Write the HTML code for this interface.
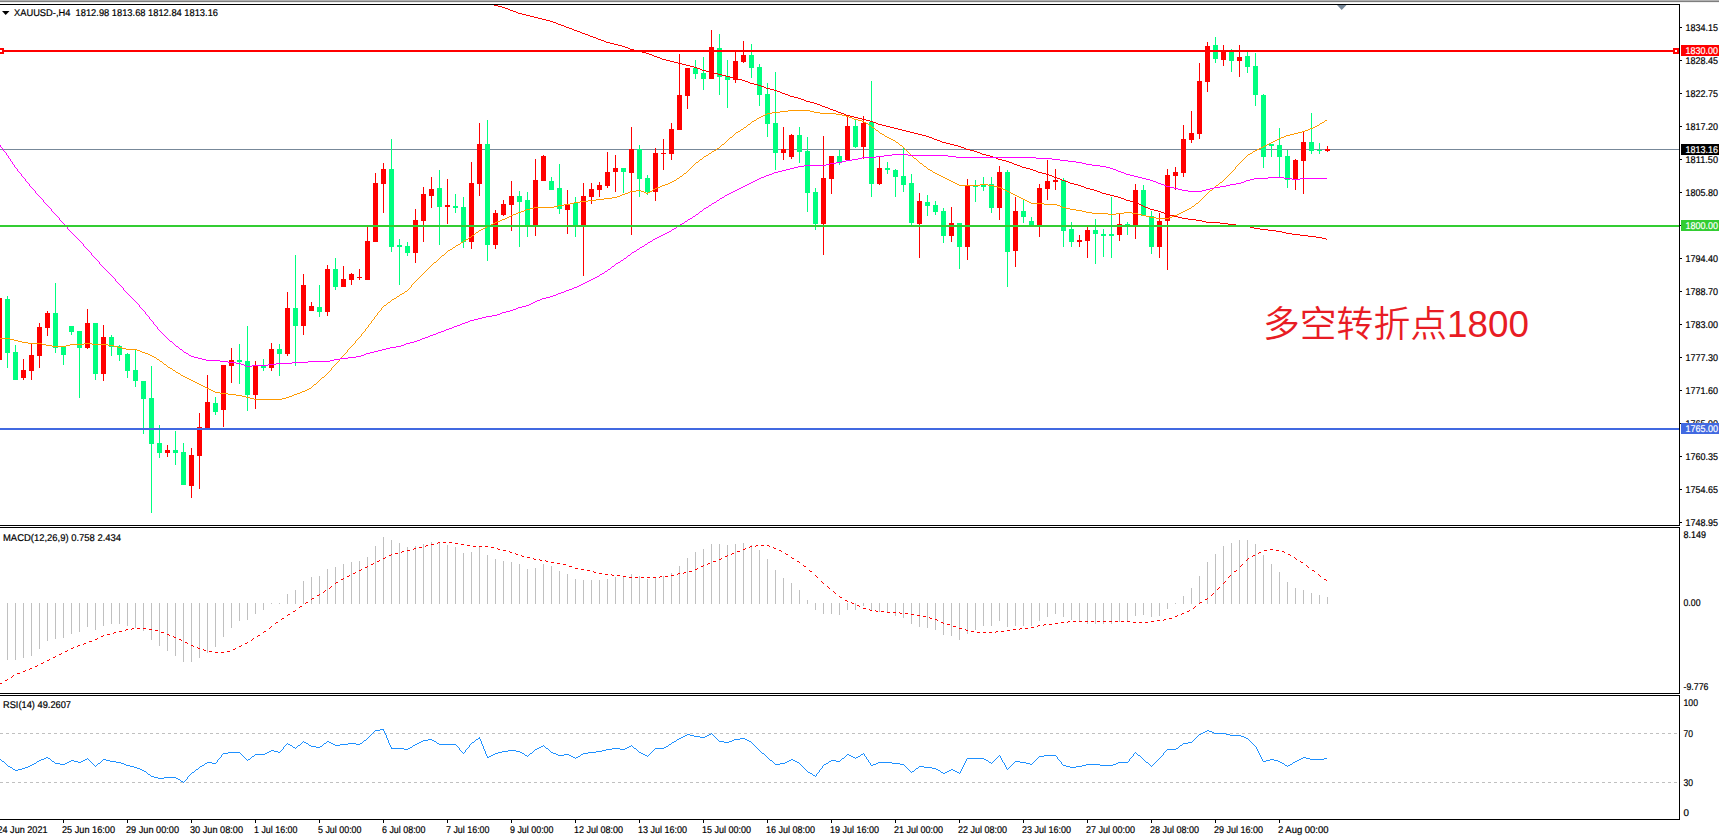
<!DOCTYPE html>
<html lang="zh"><head><meta charset="utf-8"><title>XAUUSD H4</title>
<style>html,body{margin:0;padding:0;background:#fff;overflow:hidden}body{width:1719px;height:838px}svg{display:block}.t{font-family:"Liberation Sans",sans-serif;font-size:9.8px;text-rendering:geometricPrecision;fill:#000;stroke:#000;stroke-width:0.2px}.w{fill:#fff;stroke:#fff}.big{font-family:"Liberation Sans","Noto Sans CJK SC",sans-serif;font-weight:350;font-size:36.8px;fill:#e81c24}</style></head><body>
<svg width="1719" height="838" viewBox="0 0 1719 838">
<rect width="1719" height="838" fill="#fff"/>
<g shape-rendering="crispEdges">
<rect x="0" y="0" width="1719" height="1" fill="#b2b2b2"/>
<rect x="0" y="1" width="1719" height="1" fill="#7e7e7e"/>
<rect x="0" y="2" width="1719" height="1" fill="#f0f0f0"/>
<rect x="0" y="4" width="1680" height="1" fill="#000"/>
<rect x="1679" y="4" width="1" height="816" fill="#000"/>
<rect x="0" y="525" width="1680" height="1" fill="#000"/>
<rect x="0" y="526" width="1680" height="1" fill="#fff"/>
<rect x="0" y="527" width="1680" height="1" fill="#000"/>
<rect x="0" y="693" width="1680" height="1" fill="#000"/>
<rect x="0" y="694" width="1680" height="1" fill="#fff"/>
<rect x="0" y="695" width="1680" height="1" fill="#000"/>
<rect x="0" y="819" width="1680" height="1" fill="#000"/>
<rect x="0" y="149" width="1679" height="1" fill="#778899"/>
<polygon points="1337,5 1346.5,5 1341.7,10" fill="#778899" shape-rendering="auto"/>
<rect x="0" y="50" width="1679" height="2" fill="#ff0000"/>
<rect x="0" y="225" width="1679" height="2" fill="#32cd32"/>
<rect x="0" y="428" width="1679" height="2" fill="#4169e1"/>
<rect x="-1" y="298" width="1" height="62" fill="#ff0000"/>
<rect x="-3" y="298" width="5" height="62" fill="#ff0000"/>
<rect x="7" y="296" width="1" height="72" fill="#00ff7f"/>
<rect x="5" y="299" width="5" height="54" fill="#00ff7f"/>
<rect x="15" y="345" width="1" height="35" fill="#00ff7f"/>
<rect x="13" y="352" width="5" height="28" fill="#00ff7f"/>
<rect x="23" y="359" width="1" height="21" fill="#ff0000"/>
<rect x="21" y="370" width="5" height="8" fill="#ff0000"/>
<rect x="31" y="344" width="1" height="36" fill="#ff0000"/>
<rect x="29" y="355" width="5" height="16" fill="#ff0000"/>
<rect x="39" y="323" width="1" height="45" fill="#ff0000"/>
<rect x="37" y="327" width="5" height="29" fill="#ff0000"/>
<rect x="47" y="311" width="1" height="25" fill="#ff0000"/>
<rect x="45" y="313" width="5" height="15" fill="#ff0000"/>
<rect x="55" y="283" width="1" height="70" fill="#00ff7f"/>
<rect x="53" y="313" width="5" height="35" fill="#00ff7f"/>
<rect x="63" y="346" width="1" height="19" fill="#00ff7f"/>
<rect x="61" y="346" width="5" height="9" fill="#00ff7f"/>
<rect x="71" y="326" width="1" height="9" fill="#00ff7f"/>
<rect x="69" y="326" width="5" height="6" fill="#00ff7f"/>
<rect x="79" y="331" width="1" height="67" fill="#00ff7f"/>
<rect x="77" y="331" width="5" height="17" fill="#00ff7f"/>
<rect x="87" y="309" width="1" height="40" fill="#ff0000"/>
<rect x="85" y="323" width="5" height="25" fill="#ff0000"/>
<rect x="95" y="323" width="1" height="57" fill="#00ff7f"/>
<rect x="93" y="323" width="5" height="51" fill="#00ff7f"/>
<rect x="103" y="325" width="1" height="56" fill="#ff0000"/>
<rect x="101" y="337" width="5" height="37" fill="#ff0000"/>
<rect x="111" y="335" width="1" height="21" fill="#00ff7f"/>
<rect x="109" y="337" width="5" height="10" fill="#00ff7f"/>
<rect x="119" y="345" width="1" height="16" fill="#00ff7f"/>
<rect x="117" y="346" width="5" height="9" fill="#00ff7f"/>
<rect x="127" y="353" width="1" height="25" fill="#00ff7f"/>
<rect x="125" y="354" width="5" height="17" fill="#00ff7f"/>
<rect x="135" y="350" width="1" height="37" fill="#00ff7f"/>
<rect x="133" y="370" width="5" height="11" fill="#00ff7f"/>
<rect x="143" y="381" width="1" height="53" fill="#00ff7f"/>
<rect x="141" y="381" width="5" height="18" fill="#00ff7f"/>
<rect x="151" y="366" width="1" height="147" fill="#00ff7f"/>
<rect x="149" y="398" width="5" height="46" fill="#00ff7f"/>
<rect x="159" y="425" width="1" height="33" fill="#00ff7f"/>
<rect x="157" y="443" width="5" height="10" fill="#00ff7f"/>
<rect x="167" y="445" width="1" height="12" fill="#ff0000"/>
<rect x="165" y="450" width="5" height="3" fill="#ff0000"/>
<rect x="175" y="431" width="1" height="34" fill="#00ff7f"/>
<rect x="173" y="450" width="5" height="3" fill="#00ff7f"/>
<rect x="183" y="443" width="1" height="42" fill="#00ff7f"/>
<rect x="181" y="452" width="5" height="33" fill="#00ff7f"/>
<rect x="191" y="448" width="1" height="50" fill="#ff0000"/>
<rect x="189" y="455" width="5" height="31" fill="#ff0000"/>
<rect x="199" y="413" width="1" height="76" fill="#ff0000"/>
<rect x="197" y="427" width="5" height="29" fill="#ff0000"/>
<rect x="207" y="375" width="1" height="53" fill="#ff0000"/>
<rect x="205" y="402" width="5" height="26" fill="#ff0000"/>
<rect x="215" y="397" width="1" height="18" fill="#00ff7f"/>
<rect x="213" y="403" width="5" height="9" fill="#00ff7f"/>
<rect x="223" y="365" width="1" height="62" fill="#ff0000"/>
<rect x="221" y="365" width="5" height="45" fill="#ff0000"/>
<rect x="231" y="348" width="1" height="35" fill="#ff0000"/>
<rect x="229" y="360" width="5" height="6" fill="#ff0000"/>
<rect x="239" y="344" width="1" height="40" fill="#00ff7f"/>
<rect x="237" y="360" width="5" height="2" fill="#00ff7f"/>
<rect x="247" y="326" width="1" height="85" fill="#00ff7f"/>
<rect x="245" y="361" width="5" height="34" fill="#00ff7f"/>
<rect x="255" y="361" width="1" height="48" fill="#ff0000"/>
<rect x="253" y="365" width="5" height="30" fill="#ff0000"/>
<rect x="263" y="359" width="1" height="12" fill="#00ff7f"/>
<rect x="261" y="366" width="5" height="2" fill="#00ff7f"/>
<rect x="271" y="343" width="1" height="28" fill="#ff0000"/>
<rect x="269" y="349" width="5" height="19" fill="#ff0000"/>
<rect x="279" y="344" width="1" height="32" fill="#00ff7f"/>
<rect x="277" y="349" width="5" height="5" fill="#00ff7f"/>
<rect x="287" y="292" width="1" height="64" fill="#ff0000"/>
<rect x="285" y="308" width="5" height="46" fill="#ff0000"/>
<rect x="295" y="255" width="1" height="111" fill="#00ff7f"/>
<rect x="293" y="308" width="5" height="18" fill="#00ff7f"/>
<rect x="303" y="274" width="1" height="61" fill="#ff0000"/>
<rect x="301" y="285" width="5" height="41" fill="#ff0000"/>
<rect x="311" y="302" width="1" height="9" fill="#ff0000"/>
<rect x="309" y="306" width="5" height="5" fill="#ff0000"/>
<rect x="319" y="285" width="1" height="32" fill="#00ff7f"/>
<rect x="317" y="307" width="5" height="5" fill="#00ff7f"/>
<rect x="327" y="265" width="1" height="51" fill="#ff0000"/>
<rect x="325" y="269" width="5" height="43" fill="#ff0000"/>
<rect x="335" y="258" width="1" height="32" fill="#00ff7f"/>
<rect x="333" y="269" width="5" height="18" fill="#00ff7f"/>
<rect x="343" y="266" width="1" height="21" fill="#ff0000"/>
<rect x="341" y="279" width="5" height="8" fill="#ff0000"/>
<rect x="351" y="273" width="1" height="12" fill="#ff0000"/>
<rect x="349" y="274" width="5" height="6" fill="#ff0000"/>
<rect x="359" y="269" width="1" height="11" fill="#ff0000"/>
<rect x="357" y="277" width="5" height="1" fill="#ff0000"/>
<rect x="367" y="227" width="1" height="53" fill="#ff0000"/>
<rect x="365" y="241" width="5" height="39" fill="#ff0000"/>
<rect x="375" y="173" width="1" height="69" fill="#ff0000"/>
<rect x="373" y="183" width="5" height="59" fill="#ff0000"/>
<rect x="383" y="163" width="1" height="50" fill="#ff0000"/>
<rect x="381" y="169" width="5" height="15" fill="#ff0000"/>
<rect x="391" y="139" width="1" height="113" fill="#00ff7f"/>
<rect x="389" y="169" width="5" height="78" fill="#00ff7f"/>
<rect x="399" y="239" width="1" height="46" fill="#00ff7f"/>
<rect x="397" y="245" width="5" height="2" fill="#00ff7f"/>
<rect x="407" y="242" width="1" height="14" fill="#00ff7f"/>
<rect x="405" y="246" width="5" height="7" fill="#00ff7f"/>
<rect x="415" y="209" width="1" height="54" fill="#ff0000"/>
<rect x="413" y="220" width="5" height="33" fill="#ff0000"/>
<rect x="423" y="187" width="1" height="55" fill="#ff0000"/>
<rect x="421" y="194" width="5" height="27" fill="#ff0000"/>
<rect x="431" y="177" width="1" height="31" fill="#ff0000"/>
<rect x="429" y="189" width="5" height="7" fill="#ff0000"/>
<rect x="439" y="170" width="1" height="75" fill="#00ff7f"/>
<rect x="437" y="188" width="5" height="19" fill="#00ff7f"/>
<rect x="447" y="179" width="1" height="45" fill="#ff0000"/>
<rect x="445" y="205" width="5" height="2" fill="#ff0000"/>
<rect x="455" y="194" width="1" height="19" fill="#00ff7f"/>
<rect x="453" y="206" width="5" height="2" fill="#00ff7f"/>
<rect x="463" y="197" width="1" height="51" fill="#00ff7f"/>
<rect x="461" y="207" width="5" height="35" fill="#00ff7f"/>
<rect x="471" y="162" width="1" height="87" fill="#ff0000"/>
<rect x="469" y="183" width="5" height="59" fill="#ff0000"/>
<rect x="479" y="123" width="1" height="73" fill="#ff0000"/>
<rect x="477" y="144" width="5" height="40" fill="#ff0000"/>
<rect x="487" y="120" width="1" height="141" fill="#00ff7f"/>
<rect x="485" y="144" width="5" height="101" fill="#00ff7f"/>
<rect x="495" y="210" width="1" height="39" fill="#ff0000"/>
<rect x="493" y="213" width="5" height="32" fill="#ff0000"/>
<rect x="503" y="200" width="1" height="16" fill="#ff0000"/>
<rect x="501" y="204" width="5" height="11" fill="#ff0000"/>
<rect x="511" y="181" width="1" height="50" fill="#ff0000"/>
<rect x="509" y="196" width="5" height="9" fill="#ff0000"/>
<rect x="519" y="191" width="1" height="56" fill="#00ff7f"/>
<rect x="517" y="196" width="5" height="6" fill="#00ff7f"/>
<rect x="527" y="192" width="1" height="45" fill="#00ff7f"/>
<rect x="525" y="200" width="5" height="25" fill="#00ff7f"/>
<rect x="535" y="159" width="1" height="77" fill="#ff0000"/>
<rect x="533" y="180" width="5" height="45" fill="#ff0000"/>
<rect x="543" y="155" width="1" height="26" fill="#ff0000"/>
<rect x="541" y="156" width="5" height="25" fill="#ff0000"/>
<rect x="551" y="177" width="1" height="13" fill="#00ff7f"/>
<rect x="549" y="181" width="5" height="9" fill="#00ff7f"/>
<rect x="559" y="164" width="1" height="50" fill="#00ff7f"/>
<rect x="557" y="188" width="5" height="21" fill="#00ff7f"/>
<rect x="567" y="190" width="1" height="44" fill="#ff0000"/>
<rect x="565" y="204" width="5" height="6" fill="#ff0000"/>
<rect x="575" y="197" width="1" height="40" fill="#00ff7f"/>
<rect x="573" y="203" width="5" height="22" fill="#00ff7f"/>
<rect x="583" y="183" width="1" height="93" fill="#ff0000"/>
<rect x="581" y="196" width="5" height="29" fill="#ff0000"/>
<rect x="591" y="183" width="1" height="21" fill="#ff0000"/>
<rect x="589" y="189" width="5" height="8" fill="#ff0000"/>
<rect x="599" y="182" width="1" height="15" fill="#ff0000"/>
<rect x="597" y="185" width="5" height="5" fill="#ff0000"/>
<rect x="607" y="152" width="1" height="36" fill="#ff0000"/>
<rect x="605" y="172" width="5" height="14" fill="#ff0000"/>
<rect x="615" y="155" width="1" height="37" fill="#ff0000"/>
<rect x="613" y="168" width="5" height="4" fill="#ff0000"/>
<rect x="623" y="168" width="1" height="25" fill="#00ff7f"/>
<rect x="621" y="168" width="5" height="4" fill="#00ff7f"/>
<rect x="631" y="127" width="1" height="108" fill="#ff0000"/>
<rect x="629" y="149" width="5" height="24" fill="#ff0000"/>
<rect x="639" y="145" width="1" height="52" fill="#00ff7f"/>
<rect x="637" y="149" width="5" height="30" fill="#00ff7f"/>
<rect x="647" y="175" width="1" height="20" fill="#00ff7f"/>
<rect x="645" y="178" width="5" height="14" fill="#00ff7f"/>
<rect x="655" y="148" width="1" height="53" fill="#ff0000"/>
<rect x="653" y="153" width="5" height="39" fill="#ff0000"/>
<rect x="663" y="139" width="1" height="31" fill="#ff0000"/>
<rect x="661" y="153" width="5" height="1" fill="#ff0000"/>
<rect x="671" y="123" width="1" height="37" fill="#ff0000"/>
<rect x="669" y="129" width="5" height="25" fill="#ff0000"/>
<rect x="679" y="54" width="1" height="76" fill="#ff0000"/>
<rect x="677" y="95" width="5" height="35" fill="#ff0000"/>
<rect x="687" y="68" width="1" height="41" fill="#ff0000"/>
<rect x="685" y="68" width="5" height="28" fill="#ff0000"/>
<rect x="695" y="60" width="1" height="19" fill="#00ff7f"/>
<rect x="693" y="68" width="5" height="6" fill="#00ff7f"/>
<rect x="703" y="57" width="1" height="33" fill="#00ff7f"/>
<rect x="701" y="73" width="5" height="6" fill="#00ff7f"/>
<rect x="711" y="30" width="1" height="49" fill="#ff0000"/>
<rect x="709" y="47" width="5" height="32" fill="#ff0000"/>
<rect x="719" y="34" width="1" height="61" fill="#00ff7f"/>
<rect x="717" y="48" width="5" height="29" fill="#00ff7f"/>
<rect x="727" y="60" width="1" height="48" fill="#00ff7f"/>
<rect x="725" y="76" width="5" height="4" fill="#00ff7f"/>
<rect x="735" y="52" width="1" height="31" fill="#ff0000"/>
<rect x="733" y="61" width="5" height="19" fill="#ff0000"/>
<rect x="743" y="41" width="1" height="22" fill="#ff0000"/>
<rect x="741" y="55" width="5" height="7" fill="#ff0000"/>
<rect x="751" y="44" width="1" height="34" fill="#00ff7f"/>
<rect x="749" y="55" width="5" height="13" fill="#00ff7f"/>
<rect x="759" y="64" width="1" height="42" fill="#00ff7f"/>
<rect x="757" y="67" width="5" height="28" fill="#00ff7f"/>
<rect x="767" y="83" width="1" height="54" fill="#00ff7f"/>
<rect x="765" y="94" width="5" height="30" fill="#00ff7f"/>
<rect x="775" y="72" width="1" height="98" fill="#00ff7f"/>
<rect x="773" y="123" width="5" height="30" fill="#00ff7f"/>
<rect x="783" y="127" width="1" height="33" fill="#ff0000"/>
<rect x="781" y="149" width="5" height="4" fill="#ff0000"/>
<rect x="791" y="134" width="1" height="25" fill="#ff0000"/>
<rect x="789" y="135" width="5" height="22" fill="#ff0000"/>
<rect x="799" y="127" width="1" height="36" fill="#00ff7f"/>
<rect x="797" y="135" width="5" height="17" fill="#00ff7f"/>
<rect x="807" y="137" width="1" height="75" fill="#00ff7f"/>
<rect x="805" y="151" width="5" height="42" fill="#00ff7f"/>
<rect x="815" y="188" width="1" height="42" fill="#00ff7f"/>
<rect x="813" y="192" width="5" height="32" fill="#00ff7f"/>
<rect x="823" y="136" width="1" height="119" fill="#ff0000"/>
<rect x="821" y="178" width="5" height="46" fill="#ff0000"/>
<rect x="831" y="156" width="1" height="38" fill="#ff0000"/>
<rect x="829" y="156" width="5" height="23" fill="#ff0000"/>
<rect x="839" y="150" width="1" height="15" fill="#00ff7f"/>
<rect x="837" y="156" width="5" height="6" fill="#00ff7f"/>
<rect x="847" y="116" width="1" height="44" fill="#ff0000"/>
<rect x="845" y="126" width="5" height="34" fill="#ff0000"/>
<rect x="855" y="120" width="1" height="28" fill="#00ff7f"/>
<rect x="853" y="126" width="5" height="21" fill="#00ff7f"/>
<rect x="863" y="116" width="1" height="43" fill="#ff0000"/>
<rect x="861" y="123" width="5" height="24" fill="#ff0000"/>
<rect x="871" y="81" width="1" height="116" fill="#00ff7f"/>
<rect x="869" y="122" width="5" height="62" fill="#00ff7f"/>
<rect x="879" y="157" width="1" height="28" fill="#ff0000"/>
<rect x="877" y="168" width="5" height="16" fill="#ff0000"/>
<rect x="887" y="162" width="1" height="12" fill="#00ff7f"/>
<rect x="885" y="168" width="5" height="2" fill="#00ff7f"/>
<rect x="895" y="169" width="1" height="28" fill="#00ff7f"/>
<rect x="893" y="170" width="5" height="7" fill="#00ff7f"/>
<rect x="903" y="147" width="1" height="45" fill="#00ff7f"/>
<rect x="901" y="176" width="5" height="9" fill="#00ff7f"/>
<rect x="911" y="174" width="1" height="51" fill="#00ff7f"/>
<rect x="909" y="183" width="5" height="40" fill="#00ff7f"/>
<rect x="919" y="193" width="1" height="65" fill="#ff0000"/>
<rect x="917" y="201" width="5" height="23" fill="#ff0000"/>
<rect x="927" y="195" width="1" height="21" fill="#00ff7f"/>
<rect x="925" y="202" width="5" height="4" fill="#00ff7f"/>
<rect x="935" y="201" width="1" height="14" fill="#00ff7f"/>
<rect x="933" y="205" width="5" height="7" fill="#00ff7f"/>
<rect x="943" y="208" width="1" height="35" fill="#00ff7f"/>
<rect x="941" y="211" width="5" height="25" fill="#00ff7f"/>
<rect x="951" y="207" width="1" height="35" fill="#ff0000"/>
<rect x="949" y="223" width="5" height="13" fill="#ff0000"/>
<rect x="959" y="223" width="1" height="46" fill="#00ff7f"/>
<rect x="957" y="223" width="5" height="24" fill="#00ff7f"/>
<rect x="967" y="179" width="1" height="81" fill="#ff0000"/>
<rect x="965" y="185" width="5" height="62" fill="#ff0000"/>
<rect x="975" y="180" width="1" height="22" fill="#00ff7f"/>
<rect x="973" y="185" width="5" height="2" fill="#00ff7f"/>
<rect x="983" y="177" width="1" height="14" fill="#00ff7f"/>
<rect x="981" y="184" width="5" height="3" fill="#00ff7f"/>
<rect x="991" y="177" width="1" height="36" fill="#00ff7f"/>
<rect x="989" y="184" width="5" height="24" fill="#00ff7f"/>
<rect x="999" y="166" width="1" height="54" fill="#ff0000"/>
<rect x="997" y="172" width="5" height="36" fill="#ff0000"/>
<rect x="1007" y="170" width="1" height="117" fill="#00ff7f"/>
<rect x="1005" y="172" width="5" height="80" fill="#00ff7f"/>
<rect x="1015" y="197" width="1" height="70" fill="#ff0000"/>
<rect x="1013" y="211" width="5" height="40" fill="#ff0000"/>
<rect x="1023" y="199" width="1" height="24" fill="#00ff7f"/>
<rect x="1021" y="211" width="5" height="6" fill="#00ff7f"/>
<rect x="1031" y="217" width="1" height="8" fill="#00ff7f"/>
<rect x="1029" y="221" width="5" height="4" fill="#00ff7f"/>
<rect x="1039" y="184" width="1" height="53" fill="#ff0000"/>
<rect x="1037" y="188" width="5" height="37" fill="#ff0000"/>
<rect x="1047" y="160" width="1" height="40" fill="#ff0000"/>
<rect x="1045" y="181" width="5" height="8" fill="#ff0000"/>
<rect x="1055" y="169" width="1" height="21" fill="#ff0000"/>
<rect x="1053" y="180" width="5" height="2" fill="#ff0000"/>
<rect x="1063" y="178" width="1" height="69" fill="#00ff7f"/>
<rect x="1061" y="180" width="5" height="51" fill="#00ff7f"/>
<rect x="1071" y="222" width="1" height="25" fill="#00ff7f"/>
<rect x="1069" y="229" width="5" height="13" fill="#00ff7f"/>
<rect x="1079" y="235" width="1" height="12" fill="#ff0000"/>
<rect x="1077" y="240" width="5" height="2" fill="#ff0000"/>
<rect x="1087" y="227" width="1" height="31" fill="#ff0000"/>
<rect x="1085" y="230" width="5" height="11" fill="#ff0000"/>
<rect x="1095" y="219" width="1" height="45" fill="#00ff7f"/>
<rect x="1093" y="230" width="5" height="4" fill="#00ff7f"/>
<rect x="1103" y="229" width="1" height="28" fill="#00ff7f"/>
<rect x="1101" y="234" width="5" height="2" fill="#00ff7f"/>
<rect x="1111" y="197" width="1" height="61" fill="#00ff7f"/>
<rect x="1109" y="234" width="5" height="2" fill="#00ff7f"/>
<rect x="1119" y="213" width="1" height="28" fill="#ff0000"/>
<rect x="1117" y="224" width="5" height="11" fill="#ff0000"/>
<rect x="1127" y="222" width="1" height="13" fill="#00ff7f"/>
<rect x="1125" y="224" width="5" height="3" fill="#00ff7f"/>
<rect x="1135" y="184" width="1" height="55" fill="#ff0000"/>
<rect x="1133" y="190" width="5" height="37" fill="#ff0000"/>
<rect x="1143" y="185" width="1" height="31" fill="#00ff7f"/>
<rect x="1141" y="190" width="5" height="26" fill="#00ff7f"/>
<rect x="1151" y="211" width="1" height="43" fill="#00ff7f"/>
<rect x="1149" y="216" width="5" height="31" fill="#00ff7f"/>
<rect x="1159" y="213" width="1" height="45" fill="#ff0000"/>
<rect x="1157" y="221" width="5" height="26" fill="#ff0000"/>
<rect x="1167" y="169" width="1" height="101" fill="#ff0000"/>
<rect x="1165" y="175" width="5" height="46" fill="#ff0000"/>
<rect x="1175" y="167" width="1" height="23" fill="#ff0000"/>
<rect x="1173" y="172" width="5" height="4" fill="#ff0000"/>
<rect x="1183" y="125" width="1" height="52" fill="#ff0000"/>
<rect x="1181" y="139" width="5" height="34" fill="#ff0000"/>
<rect x="1191" y="111" width="1" height="32" fill="#ff0000"/>
<rect x="1189" y="133" width="5" height="7" fill="#ff0000"/>
<rect x="1199" y="63" width="1" height="76" fill="#ff0000"/>
<rect x="1197" y="81" width="5" height="53" fill="#ff0000"/>
<rect x="1207" y="42" width="1" height="50" fill="#ff0000"/>
<rect x="1205" y="46" width="5" height="36" fill="#ff0000"/>
<rect x="1215" y="37" width="1" height="26" fill="#00ff7f"/>
<rect x="1213" y="45" width="5" height="14" fill="#00ff7f"/>
<rect x="1223" y="45" width="1" height="21" fill="#ff0000"/>
<rect x="1221" y="51" width="5" height="9" fill="#ff0000"/>
<rect x="1231" y="49" width="1" height="23" fill="#00ff7f"/>
<rect x="1229" y="51" width="5" height="10" fill="#00ff7f"/>
<rect x="1239" y="45" width="1" height="32" fill="#ff0000"/>
<rect x="1237" y="57" width="5" height="4" fill="#ff0000"/>
<rect x="1247" y="52" width="1" height="21" fill="#00ff7f"/>
<rect x="1245" y="56" width="5" height="11" fill="#00ff7f"/>
<rect x="1255" y="53" width="1" height="53" fill="#00ff7f"/>
<rect x="1253" y="66" width="5" height="29" fill="#00ff7f"/>
<rect x="1263" y="94" width="1" height="74" fill="#00ff7f"/>
<rect x="1261" y="95" width="5" height="62" fill="#00ff7f"/>
<rect x="1271" y="144" width="1" height="13" fill="#00ff7f"/>
<rect x="1269" y="144" width="5" height="2" fill="#00ff7f"/>
<rect x="1279" y="128" width="1" height="49" fill="#00ff7f"/>
<rect x="1277" y="145" width="5" height="12" fill="#00ff7f"/>
<rect x="1287" y="150" width="1" height="38" fill="#00ff7f"/>
<rect x="1285" y="156" width="5" height="24" fill="#00ff7f"/>
<rect x="1295" y="159" width="1" height="31" fill="#ff0000"/>
<rect x="1293" y="160" width="5" height="20" fill="#ff0000"/>
<rect x="1303" y="132" width="1" height="62" fill="#ff0000"/>
<rect x="1301" y="142" width="5" height="19" fill="#ff0000"/>
<rect x="1311" y="113" width="1" height="41" fill="#00ff7f"/>
<rect x="1309" y="142" width="5" height="9" fill="#00ff7f"/>
<rect x="1319" y="143" width="1" height="11" fill="#00ff7f"/>
<rect x="1317" y="150" width="5" height="1" fill="#00ff7f"/>
<rect x="1327" y="146" width="1" height="6" fill="#ff0000"/>
<rect x="1325" y="149" width="5" height="2" fill="#ff0000"/>
<path d="M494 5h4v1h-4zM498 6h4v1h-4zM502 7h3v1h-3zM505 8h3v1h-3zM508 9h2v1h-2zM510 10h3v1h-3zM513 11h3v1h-3zM516 12h2v1h-2zM518 13h4v1h-4zM522 14h4v1h-4zM526 15h4v1h-4zM530 16h4v1h-4zM534 17h4v1h-4zM538 18h4v1h-4zM542 19h4v1h-4zM546 20h4v1h-4zM550 21h3v1h-3zM553 22h3v1h-3zM556 23h2v1h-2zM558 24h3v1h-3zM561 25h3v1h-3zM564 26h2v1h-2zM566 27h3v1h-3zM569 28h3v1h-3zM572 29h2v1h-2zM574 30h3v1h-3zM577 31h3v1h-3zM580 32h2v1h-2zM582 33h3v1h-3zM585 34h3v1h-3zM588 35h2v1h-2zM590 36h3v1h-3zM593 37h3v1h-3zM596 38h2v1h-2zM598 39h3v1h-3zM601 40h3v1h-3zM604 41h2v1h-2zM606 42h4v1h-4zM610 43h4v1h-4zM614 44h4v1h-4zM618 45h4v1h-4zM622 46h3v1h-3zM625 47h3v1h-3zM628 48h2v1h-2zM630 49h4v1h-4zM634 50h4v1h-4zM638 51h4v1h-4zM642 52h4v1h-4zM646 53h3v1h-3zM649 54h3v1h-3zM652 55h2v1h-2zM654 56h3v1h-3zM657 57h3v1h-3zM660 58h2v1h-2zM662 59h4v1h-4zM666 60h4v1h-4zM670 61h4v1h-4zM674 62h4v1h-4zM678 63h4v1h-4zM682 64h4v1h-4zM686 65h4v1h-4zM690 66h4v1h-4zM694 67h3v1h-3zM697 68h3v1h-3zM700 69h2v1h-2zM702 70h4v1h-4zM706 71h4v1h-4zM710 72h4v1h-4zM714 73h4v1h-4zM718 74h4v1h-4zM722 75h4v1h-4zM726 76h4v1h-4zM730 77h4v1h-4zM734 78h4v1h-4zM738 79h4v1h-4zM742 80h3v1h-3zM745 81h3v1h-3zM748 82h2v1h-2zM750 83h4v1h-4zM754 84h4v1h-4zM758 85h3v1h-3zM761 86h3v1h-3zM764 87h2v1h-2zM766 88h4v1h-4zM770 89h4v1h-4zM774 90h3v1h-3zM777 91h3v1h-3zM780 92h2v1h-2zM782 93h3v1h-3zM785 94h3v1h-3zM788 95h2v1h-2zM790 96h4v1h-4zM794 97h4v1h-4zM798 98h3v1h-3zM801 99h3v1h-3zM804 100h2v1h-2zM806 101h4v1h-4zM810 102h4v1h-4zM814 103h3v1h-3zM817 104h3v1h-3zM820 105h2v1h-2zM822 106h3v1h-3zM825 107h3v1h-3zM828 108h2v1h-2zM830 109h3v1h-3zM833 110h3v1h-3zM836 111h2v1h-2zM838 112h3v1h-3zM841 113h3v1h-3zM844 114h2v1h-2zM846 115h4v1h-4zM850 116h4v1h-4zM854 117h4v1h-4zM858 118h4v1h-4zM862 119h4v1h-4zM866 120h4v1h-4zM870 121h3v1h-3zM873 122h3v1h-3zM876 123h2v1h-2zM878 124h4v1h-4zM882 125h4v1h-4zM886 126h4v1h-4zM890 127h4v1h-4zM894 128h4v1h-4zM898 129h4v1h-4zM902 130h4v1h-4zM906 131h4v1h-4zM910 132h4v1h-4zM914 133h4v1h-4zM918 134h4v1h-4zM922 135h4v1h-4zM926 136h3v1h-3zM929 137h3v1h-3zM932 138h2v1h-2zM934 139h3v1h-3zM937 140h3v1h-3zM940 141h2v1h-2zM942 142h4v1h-4zM946 143h4v1h-4zM950 144h4v1h-4zM954 145h4v1h-4zM958 146h3v1h-3zM961 147h3v1h-3zM964 148h2v1h-2zM966 149h4v1h-4zM970 150h4v1h-4zM974 151h3v1h-3zM977 152h3v1h-3zM980 153h2v1h-2zM982 154h4v1h-4zM986 155h4v1h-4zM990 156h3v1h-3zM993 157h3v1h-3zM996 158h2v1h-2zM998 159h4v1h-4zM1002 160h4v1h-4zM1006 161h3v1h-3zM1009 162h3v1h-3zM1012 163h2v1h-2zM1014 164h3v1h-3zM1017 165h3v1h-3zM1020 166h2v1h-2zM1022 167h4v1h-4zM1026 168h4v1h-4zM1030 169h3v1h-3zM1033 170h3v1h-3zM1036 171h2v1h-2zM1038 172h4v1h-4zM1042 173h4v1h-4zM1046 174h3v1h-3zM1049 175h3v1h-3zM1052 176h2v1h-2zM1054 177h3v1h-3zM1057 178h3v1h-3zM1060 179h2v1h-2zM1062 180h3v1h-3zM1065 181h3v1h-3zM1068 182h2v1h-2zM1070 183h4v1h-4zM1074 184h4v1h-4zM1078 185h3v1h-3zM1081 186h3v1h-3zM1084 187h2v1h-2zM1086 188h4v1h-4zM1090 189h4v1h-4zM1094 190h3v1h-3zM1097 191h3v1h-3zM1100 192h2v1h-2zM1102 193h4v1h-4zM1106 194h4v1h-4zM1110 195h4v1h-4zM1114 196h4v1h-4zM1118 197h3v1h-3zM1121 198h3v1h-3zM1124 199h2v1h-2zM1126 200h4v1h-4zM1130 201h4v1h-4zM1134 202h3v1h-3zM1137 203h2v1h-2zM1139 204h2v1h-2zM1141 205h2v1h-2zM1143 206h2v1h-2zM1145 207h3v1h-3zM1148 208h2v1h-2zM1150 209h4v1h-4zM1154 210h4v1h-4zM1158 211h3v1h-3zM1161 212h3v1h-3zM1164 213h2v1h-2zM1166 214h4v1h-4zM1170 215h4v1h-4zM1174 216h4v1h-4zM1178 217h4v1h-4zM1182 218h6v1h-6zM1188 219h8v1h-8zM1196 220h6v1h-6zM1202 221h4v1h-4zM1206 222h14v1h-14zM1220 223h8v1h-8zM1228 224h8v1h-8zM1236 225h8v1h-8zM1244 226h6v1h-6zM1250 227h4v1h-4zM1254 228h6v1h-6zM1260 229h8v1h-8zM1268 230h8v1h-8zM1276 231h6v1h-6zM1282 232h4v1h-4zM1286 233h6v1h-6zM1292 234h8v1h-8zM1300 235h8v1h-8zM1308 236h8v1h-8zM1316 237h6v1h-6zM1322 238h4v1h-4zM1326 239h1v1h-1z" fill="#ff0000"/>
<path d="M0 338h10v1h-10zM10 339h4v1h-4zM14 340h4v1h-4zM18 341h4v1h-4zM22 342h6v1h-6zM28 343h14v1h-14zM42 344h4v1h-4zM46 345h6v1h-6zM52 346h14v1h-14zM66 345h4v1h-4zM70 344h14v1h-14zM84 343h8v1h-8zM92 344h16v1h-16zM108 345h6v1h-6zM114 346h4v1h-4zM118 347h4v1h-4zM122 348h4v1h-4zM126 349h11v1h-11zM137 350h3v1h-3zM140 351h2v1h-2zM142 352h3v1h-3zM145 353h3v1h-3zM148 354h2v1h-2zM150 355h2v1h-2zM152 356h2v1h-2zM154 357h2v1h-2zM156 358h1v1h-1zM157 359h2v1h-2zM159 360h1v1h-1zM160 361h2v1h-2zM162 362h1v1h-1zM163 363h1v1h-1zM164 364h2v1h-2zM166 365h1v1h-1zM167 366h1v1h-1zM168 367h2v1h-2zM170 368h2v1h-2zM172 369h1v1h-1zM173 370h2v1h-2zM175 371h1v1h-1zM176 372h2v1h-2zM178 373h2v1h-2zM180 374h1v1h-1zM181 375h2v1h-2zM183 376h2v1h-2zM185 377h2v1h-2zM187 378h2v1h-2zM189 379h2v1h-2zM191 380h2v1h-2zM193 381h2v1h-2zM195 382h2v1h-2zM197 383h2v1h-2zM199 384h2v1h-2zM201 385h2v1h-2zM203 386h2v1h-2zM205 387h2v1h-2zM207 388h2v1h-2zM209 389h2v1h-2zM211 390h2v1h-2zM213 391h2v1h-2zM215 392h5v1h-5zM220 393h8v1h-8zM228 394h8v1h-8zM236 395h6v1h-6zM242 396h4v1h-4zM246 397h4v1h-4zM250 398h4v1h-4zM254 399h28v1h-28zM282 398h4v1h-4zM286 397h3v1h-3zM289 396h3v1h-3zM292 395h2v1h-2zM294 394h3v1h-3zM297 393h3v1h-3zM300 392h2v1h-2zM302 391h3v1h-3zM305 390h2v1h-2zM307 389h2v1h-2zM309 388h2v1h-2zM311 387h1v1h-1zM312 386h1v1h-1zM313 385h1v1h-1zM314 384h2v1h-2zM316 383h1v1h-1zM317 382h1v1h-1zM318 381h1v1h-1zM319 380h1v1h-1zM320 379h1v1h-1zM321 378h1v1h-1zM322 377h2v1h-2zM324 376h1v1h-1zM325 375h1v1h-1zM326 374h1v1h-1zM327 373h1v1h-1zM328 372h1v1h-1zM329 371h1v1h-1zM330 370h1v1h-1zM331 369h1v1h-1zM331 368h1v1h-1zM332 367h1v1h-1zM333 366h1v1h-1zM334 365h1v1h-1zM335 364h1v1h-1zM336 363h1v1h-1zM337 362h1v1h-1zM338 361h1v1h-1zM339 360h1v1h-1zM339 359h1v1h-1zM340 358h1v1h-1zM341 357h1v1h-1zM342 356h1v1h-1zM343 355h1v1h-1zM344 354h1v1h-1zM345 353h1v1h-1zM346 352h1v1h-1zM347 351h1v1h-1zM347 350h1v1h-1zM348 349h1v1h-1zM349 348h1v1h-1zM350 347h1v1h-1zM351 346h1v1h-1zM352 345h1v1h-1zM353 344h1v1h-1zM354 343h1v1h-1zM355 342h1v1h-1zM355 341h1v1h-1zM356 340h1v1h-1zM357 339h1v1h-1zM358 338h1v1h-1zM359 337h1v1h-1zM360 336h1v1h-1zM361 335h1v1h-1zM361 334h1v1h-1zM362 333h1v1h-1zM363 332h1v1h-1zM364 331h1v1h-1zM365 330h1v1h-1zM365 329h1v1h-1zM366 328h1v1h-1zM367 327h1v1h-1zM368 326h1v1h-1zM368 325h1v1h-1zM369 324h1v1h-1zM370 323h1v1h-1zM371 322h1v1h-1zM371 321h1v1h-1zM372 320h1v1h-1zM373 319h1v1h-1zM374 318h1v1h-1zM374 317h1v1h-1zM375 316h1v1h-1zM376 315h1v1h-1zM377 314h1v1h-1zM377 313h1v1h-1zM378 312h1v1h-1zM379 311h1v1h-1zM380 310h1v1h-1zM381 309h1v1h-1zM381 308h1v1h-1zM382 307h1v1h-1zM383 306h1v1h-1zM384 305h2v1h-2zM386 304h1v1h-1zM387 303h1v1h-1zM388 302h2v1h-2zM390 301h1v1h-1zM391 300h1v1h-1zM392 299h2v1h-2zM394 298h2v1h-2zM396 297h1v1h-1zM397 296h2v1h-2zM399 295h1v1h-1zM400 294h2v1h-2zM402 293h2v1h-2zM404 292h1v1h-1zM405 291h2v1h-2zM407 290h1v1h-1zM408 289h1v1h-1zM409 288h1v1h-1zM410 287h1v1h-1zM411 286h1v1h-1zM411 285h1v1h-1zM412 284h1v1h-1zM413 283h1v1h-1zM414 282h1v1h-1zM415 281h1v1h-1zM416 280h1v1h-1zM417 279h1v1h-1zM418 278h1v1h-1zM419 277h1v1h-1zM420 276h1v1h-1zM421 275h1v1h-1zM422 274h1v1h-1zM423 273h1v1h-1zM424 272h1v1h-1zM425 271h1v1h-1zM426 270h1v1h-1zM427 269h1v1h-1zM428 268h1v1h-1zM429 267h1v1h-1zM430 266h1v1h-1zM431 265h1v1h-1zM432 264h1v1h-1zM433 263h1v1h-1zM434 262h2v1h-2zM436 261h1v1h-1zM437 260h1v1h-1zM438 259h1v1h-1zM439 258h1v1h-1zM440 257h1v1h-1zM441 256h1v1h-1zM442 255h2v1h-2zM444 254h1v1h-1zM445 253h1v1h-1zM446 252h1v1h-1zM447 251h1v1h-1zM448 250h2v1h-2zM450 249h2v1h-2zM452 248h1v1h-1zM453 247h2v1h-2zM455 246h1v1h-1zM456 245h2v1h-2zM458 244h2v1h-2zM460 243h1v1h-1zM461 242h2v1h-2zM463 241h1v1h-1zM464 240h2v1h-2zM466 239h2v1h-2zM468 238h1v1h-1zM469 237h2v1h-2zM471 236h1v1h-1zM472 235h2v1h-2zM474 234h1v1h-1zM475 233h1v1h-1zM476 232h2v1h-2zM478 231h1v1h-1zM479 230h2v1h-2zM481 229h2v1h-2zM483 228h2v1h-2zM485 227h2v1h-2zM487 226h2v1h-2zM489 225h2v1h-2zM491 224h2v1h-2zM493 223h2v1h-2zM495 222h2v1h-2zM497 221h3v1h-3zM500 220h2v1h-2zM502 219h3v1h-3zM505 218h2v1h-2zM507 217h2v1h-2zM509 216h2v1h-2zM511 215h2v1h-2zM513 214h3v1h-3zM516 213h2v1h-2zM518 212h3v1h-3zM521 211h3v1h-3zM524 210h2v1h-2zM526 209h4v1h-4zM530 208h4v1h-4zM534 207h20v1h-20zM554 206h4v1h-4zM558 205h6v1h-6zM564 204h6v1h-6zM570 203h4v1h-4zM574 202h6v1h-6zM580 201h8v1h-8zM588 200h8v1h-8zM596 199h8v1h-8zM604 198h8v1h-8zM612 197h5v1h-5zM617 196h3v1h-3zM620 195h2v1h-2zM622 194h3v1h-3zM625 193h3v1h-3zM628 192h2v1h-2zM630 191h6v1h-6zM636 190h5v1h-5zM641 191h3v1h-3zM644 192h2v1h-2zM646 193h2v1h-2zM648 192h2v1h-2zM650 191h2v1h-2zM652 190h1v1h-1zM653 189h2v1h-2zM655 188h2v1h-2zM657 187h3v1h-3zM660 186h2v1h-2zM662 185h3v1h-3zM665 184h3v1h-3zM668 183h2v1h-2zM670 182h2v1h-2zM672 181h2v1h-2zM674 180h2v1h-2zM676 179h1v1h-1zM677 178h2v1h-2zM679 177h1v1h-1zM680 176h2v1h-2zM682 175h1v1h-1zM683 174h1v1h-1zM684 173h2v1h-2zM686 172h1v1h-1zM687 171h1v1h-1zM688 170h1v1h-1zM689 169h1v1h-1zM690 168h1v1h-1zM691 167h1v1h-1zM692 166h1v1h-1zM693 165h1v1h-1zM694 164h1v1h-1zM695 163h1v1h-1zM696 162h2v1h-2zM698 161h1v1h-1zM699 160h1v1h-1zM700 159h2v1h-2zM702 158h1v1h-1zM703 157h1v1h-1zM704 156h2v1h-2zM706 155h2v1h-2zM708 154h1v1h-1zM709 153h2v1h-2zM711 152h1v1h-1zM712 151h2v1h-2zM714 150h2v1h-2zM716 149h1v1h-1zM717 148h2v1h-2zM719 147h1v1h-1zM720 146h1v1h-1zM721 145h1v1h-1zM722 144h2v1h-2zM724 143h1v1h-1zM725 142h1v1h-1zM726 141h1v1h-1zM727 140h1v1h-1zM728 139h1v1h-1zM729 138h1v1h-1zM730 137h2v1h-2zM732 136h1v1h-1zM733 135h1v1h-1zM734 134h1v1h-1zM735 133h1v1h-1zM736 132h2v1h-2zM738 131h2v1h-2zM740 130h1v1h-1zM741 129h2v1h-2zM743 128h1v1h-1zM744 127h2v1h-2zM746 126h1v1h-1zM747 125h1v1h-1zM748 124h2v1h-2zM750 123h1v1h-1zM751 122h1v1h-1zM752 121h2v1h-2zM754 120h2v1h-2zM756 119h1v1h-1zM757 118h2v1h-2zM759 117h2v1h-2zM761 116h2v1h-2zM763 115h2v1h-2zM765 114h2v1h-2zM767 113h5v1h-5zM772 112h8v1h-8zM780 111h8v1h-8zM788 110h22v1h-22zM810 111h4v1h-4zM814 112h6v1h-6zM820 113h16v1h-16zM836 114h6v1h-6zM842 115h4v1h-4zM846 116h3v1h-3zM849 117h3v1h-3zM852 118h2v1h-2zM854 119h4v1h-4zM858 120h4v1h-4zM862 121h2v1h-2zM864 122h2v1h-2zM866 123h2v1h-2zM868 124h1v1h-1zM869 125h2v1h-2zM871 126h1v1h-1zM872 127h2v1h-2zM874 128h1v1h-1zM875 129h1v1h-1zM876 130h2v1h-2zM878 131h1v1h-1zM879 132h1v1h-1zM880 133h2v1h-2zM882 134h2v1h-2zM884 135h1v1h-1zM885 136h2v1h-2zM887 137h2v1h-2zM889 138h2v1h-2zM891 139h2v1h-2zM893 140h2v1h-2zM895 141h1v1h-1zM896 142h2v1h-2zM898 143h1v1h-1zM899 144h1v1h-1zM900 145h2v1h-2zM902 146h1v1h-1zM903 147h1v1h-1zM904 148h1v1h-1zM905 149h1v1h-1zM906 150h1v1h-1zM907 151h1v1h-1zM908 152h1v1h-1zM909 153h1v1h-1zM910 154h1v1h-1zM911 155h1v1h-1zM912 156h1v1h-1zM913 157h1v1h-1zM914 158h2v1h-2zM916 159h1v1h-1zM917 160h1v1h-1zM918 161h1v1h-1zM919 162h1v1h-1zM920 163h2v1h-2zM922 164h1v1h-1zM923 165h1v1h-1zM924 166h2v1h-2zM926 167h1v1h-1zM927 168h1v1h-1zM928 169h2v1h-2zM930 170h2v1h-2zM932 171h1v1h-1zM933 172h2v1h-2zM935 173h2v1h-2zM937 174h2v1h-2zM939 175h2v1h-2zM941 176h2v1h-2zM943 177h2v1h-2zM945 178h2v1h-2zM947 179h2v1h-2zM949 180h2v1h-2zM951 181h2v1h-2zM953 182h2v1h-2zM955 183h2v1h-2zM957 184h2v1h-2zM959 185h21v1h-21zM980 184h8v1h-8zM988 185h6v1h-6zM994 186h4v1h-4zM998 187h3v1h-3zM1001 188h2v1h-2zM1003 189h2v1h-2zM1005 190h2v1h-2zM1007 191h2v1h-2zM1009 192h2v1h-2zM1011 193h2v1h-2zM1013 194h2v1h-2zM1015 195h2v1h-2zM1017 196h2v1h-2zM1019 197h2v1h-2zM1021 198h2v1h-2zM1023 199h2v1h-2zM1025 200h2v1h-2zM1027 201h2v1h-2zM1029 202h2v1h-2zM1031 203h13v1h-13zM1044 204h13v1h-13zM1057 205h3v1h-3zM1060 206h2v1h-2zM1062 207h4v1h-4zM1066 208h4v1h-4zM1070 209h6v1h-6zM1076 210h6v1h-6zM1082 211h4v1h-4zM1086 212h6v1h-6zM1092 213h16v1h-16zM1108 214h8v1h-8zM1116 213h8v1h-8zM1124 212h8v1h-8zM1132 213h6v1h-6zM1138 214h4v1h-4zM1142 215h4v1h-4zM1146 216h4v1h-4zM1150 217h6v1h-6zM1156 218h13v1h-13zM1169 217h3v1h-3zM1172 216h2v1h-2zM1174 215h3v1h-3zM1177 214h2v1h-2zM1179 213h2v1h-2zM1181 212h2v1h-2zM1183 211h2v1h-2zM1185 210h2v1h-2zM1187 209h2v1h-2zM1189 208h2v1h-2zM1191 207h1v1h-1zM1192 206h2v1h-2zM1194 205h1v1h-1zM1195 204h1v1h-1zM1196 203h2v1h-2zM1198 202h1v1h-1zM1199 201h1v1h-1zM1200 200h1v1h-1zM1201 199h1v1h-1zM1202 198h1v1h-1zM1203 197h1v1h-1zM1204 196h1v1h-1zM1205 195h1v1h-1zM1206 194h1v1h-1zM1207 193h1v1h-1zM1208 192h1v1h-1zM1209 191h1v1h-1zM1210 190h2v1h-2zM1212 189h1v1h-1zM1213 188h1v1h-1zM1214 187h1v1h-1zM1215 186h1v1h-1zM1216 185h2v1h-2zM1218 184h1v1h-1zM1219 183h1v1h-1zM1220 182h2v1h-2zM1222 181h1v1h-1zM1223 180h1v1h-1zM1224 179h1v1h-1zM1225 178h1v1h-1zM1226 177h1v1h-1zM1227 176h1v1h-1zM1228 175h1v1h-1zM1229 174h1v1h-1zM1230 173h1v1h-1zM1231 172h1v1h-1zM1232 171h1v1h-1zM1233 170h1v1h-1zM1234 169h1v1h-1zM1235 168h1v1h-1zM1235 167h1v1h-1zM1236 166h1v1h-1zM1237 165h1v1h-1zM1238 164h1v1h-1zM1239 163h1v1h-1zM1240 162h1v1h-1zM1241 161h1v1h-1zM1242 160h1v1h-1zM1243 159h1v1h-1zM1244 158h1v1h-1zM1245 157h1v1h-1zM1246 156h1v1h-1zM1247 155h1v1h-1zM1248 154h2v1h-2zM1250 153h2v1h-2zM1252 152h1v1h-1zM1253 151h2v1h-2zM1255 150h2v1h-2zM1257 149h2v1h-2zM1259 148h2v1h-2zM1261 147h2v1h-2zM1263 146h2v1h-2zM1265 145h2v1h-2zM1267 144h2v1h-2zM1269 143h2v1h-2zM1271 142h2v1h-2zM1273 141h2v1h-2zM1275 140h2v1h-2zM1277 139h2v1h-2zM1279 138h2v1h-2zM1281 137h3v1h-3zM1284 136h2v1h-2zM1286 135h4v1h-4zM1290 134h4v1h-4zM1294 133h4v1h-4zM1298 132h4v1h-4zM1302 131h3v1h-3zM1305 130h3v1h-3zM1308 129h2v1h-2zM1310 128h3v1h-3zM1313 127h2v1h-2zM1315 126h2v1h-2zM1317 125h2v1h-2zM1319 124h1v1h-1zM1320 123h2v1h-2zM1322 122h2v1h-2zM1324 121h1v1h-1zM1325 120h2v1h-2z" fill="#ff9a00"/>
<path d="M0 145h1v2h-1zM1 147h1v1h-1zM2 148h1v1h-1zM3 149h1v2h-1zM4 151h1v1h-1zM5 152h1v1h-1zM6 153h1v2h-1zM7 155h1v1h-1zM8 156h1v2h-1zM9 158h1v1h-1zM10 159h1v2h-1zM11 161h1v1h-1zM12 162h1v2h-1zM13 164h1v1h-1zM14 165h1v2h-1zM15 167h1v1h-1zM16 168h1v1h-1zM17 169h1v2h-1zM18 171h1v1h-1zM19 172h1v1h-1zM20 173h1v1h-1zM21 174h1v2h-1zM22 176h1v1h-1zM23 177h1v1h-1zM24 178h1v1h-1zM25 179h1v2h-1zM26 181h1v1h-1zM27 182h1v1h-1zM28 183h1v1h-1zM29 184h1v2h-1zM30 186h1v1h-1zM31 187h1v1h-1zM32 188h1v1h-1zM33 189h1v1h-1zM34 190h1v1h-1zM35 191h1v2h-1zM36 193h1v1h-1zM37 194h1v1h-1zM38 195h1v1h-1zM39 196h1v1h-1zM40 197h1v1h-1zM41 198h1v1h-1zM42 199h1v1h-1zM43 200h1v2h-1zM44 202h1v1h-1zM45 203h1v1h-1zM46 204h1v1h-1zM47 205h1v1h-1zM48 206h1v1h-1zM49 207h1v1h-1zM50 208h1v1h-1zM51 209h1v2h-1zM52 211h1v1h-1zM53 212h1v1h-1zM54 213h1v1h-1zM55 214h1v1h-1zM56 215h1v1h-1zM57 216h1v1h-1zM58 217h1v1h-1zM59 218h1v2h-1zM60 220h1v1h-1zM61 221h1v1h-1zM62 222h1v1h-1zM63 223h1v1h-1zM64 224h1v1h-1zM65 225h1v1h-1zM66 226h1v1h-1zM67 227h1v2h-1zM68 229h1v1h-1zM69 230h1v1h-1zM70 231h1v1h-1zM71 232h1v1h-1zM72 233h1v1h-1zM73 234h1v1h-1zM74 235h1v1h-1zM75 236h1v1h-1zM76 237h1v1h-1zM77 238h1v1h-1zM78 239h1v1h-1zM79 240h1v1h-1zM80 241h1v1h-1zM81 242h1v1h-1zM82 243h1v1h-1zM83 244h1v2h-1zM84 246h1v1h-1zM85 247h1v1h-1zM86 248h1v1h-1zM87 249h1v1h-1zM88 250h1v1h-1zM89 251h1v1h-1zM90 252h1v1h-1zM91 253h1v2h-1zM92 255h1v1h-1zM93 256h1v1h-1zM94 257h1v1h-1zM95 258h1v1h-1zM96 259h1v1h-1zM97 260h1v1h-1zM98 261h1v1h-1zM99 262h1v2h-1zM100 264h1v1h-1zM101 265h1v1h-1zM102 266h1v1h-1zM103 267h1v1h-1zM104 268h1v1h-1zM105 269h1v1h-1zM106 270h1v1h-1zM107 271h1v1h-1zM108 272h1v1h-1zM109 273h1v1h-1zM110 274h1v1h-1zM111 275h1v1h-1zM112 276h1v1h-1zM113 277h1v1h-1zM114 278h1v1h-1zM115 279h1v2h-1zM116 281h1v1h-1zM117 282h1v1h-1zM118 283h1v1h-1zM119 284h1v1h-1zM120 285h1v1h-1zM121 286h1v1h-1zM122 287h1v1h-1zM123 288h1v2h-1zM124 290h1v1h-1zM125 291h1v1h-1zM126 292h1v1h-1zM127 293h1v1h-1zM128 294h1v1h-1zM129 295h1v1h-1zM130 296h1v1h-1zM131 297h1v1h-1zM132 298h1v1h-1zM133 299h1v1h-1zM134 300h1v1h-1zM135 301h1v1h-1zM136 302h1v1h-1zM137 303h1v1h-1zM138 304h1v1h-1zM139 305h1v2h-1zM140 307h1v1h-1zM141 308h1v1h-1zM142 309h1v1h-1zM143 310h1v1h-1zM144 311h1v1h-1zM145 312h1v2h-1zM146 314h1v1h-1zM147 315h1v1h-1zM148 316h1v1h-1zM149 317h1v2h-1zM150 319h1v1h-1zM151 320h1v1h-1zM152 321h1v1h-1zM153 322h1v2h-1zM154 324h1v1h-1zM155 325h1v1h-1zM156 326h1v1h-1zM157 327h1v2h-1zM158 329h1v1h-1zM159 330h1v1h-1zM160 331h1v1h-1zM161 332h1v1h-1zM162 333h1v1h-1zM163 334h1v1h-1zM164 335h1v1h-1zM165 336h1v1h-1zM166 337h1v1h-1zM167 338h1v1h-1zM168 339h1v1h-1zM169 340h1v1h-1zM170 341h2v1h-2zM172 342h1v1h-1zM173 343h1v1h-1zM174 344h1v1h-1zM175 345h1v1h-1zM176 346h2v1h-2zM178 347h1v1h-1zM179 348h1v1h-1zM180 349h2v1h-2zM182 350h1v1h-1zM183 351h1v1h-1zM184 352h2v1h-2zM186 353h2v1h-2zM188 354h1v1h-1zM189 355h2v1h-2zM191 356h3v1h-3zM194 357h4v1h-4zM198 358h4v1h-4zM202 359h4v1h-4zM206 360h14v1h-14zM220 361h8v1h-8zM228 362h8v1h-8zM236 363h5v1h-5zM241 364h3v1h-3zM244 365h2v1h-2zM246 366h6v1h-6zM252 365h16v1h-16zM268 364h8v1h-8zM276 363h16v1h-16zM292 362h16v1h-16zM308 361h22v1h-22zM330 360h4v1h-4zM334 359h6v1h-6zM340 358h8v1h-8zM348 357h8v1h-8zM356 356h5v1h-5zM361 355h3v1h-3zM364 354h2v1h-2zM366 353h4v1h-4zM370 352h4v1h-4zM374 351h4v1h-4zM378 350h4v1h-4zM382 349h4v1h-4zM386 348h4v1h-4zM390 347h6v1h-6zM396 346h5v1h-5zM401 345h3v1h-3zM404 344h2v1h-2zM406 343h4v1h-4zM410 342h4v1h-4zM414 341h3v1h-3zM417 340h3v1h-3zM420 339h2v1h-2zM422 338h3v1h-3zM425 337h3v1h-3zM428 336h2v1h-2zM430 335h3v1h-3zM433 334h3v1h-3zM436 333h2v1h-2zM438 332h3v1h-3zM441 331h3v1h-3zM444 330h2v1h-2zM446 329h3v1h-3zM449 328h3v1h-3zM452 327h2v1h-2zM454 326h3v1h-3zM457 325h3v1h-3zM460 324h2v1h-2zM462 323h3v1h-3zM465 322h3v1h-3zM468 321h2v1h-2zM470 320h4v1h-4zM474 319h4v1h-4zM478 318h4v1h-4zM482 317h4v1h-4zM486 316h6v1h-6zM492 315h5v1h-5zM497 314h3v1h-3zM500 313h2v1h-2zM502 312h4v1h-4zM506 311h4v1h-4zM510 310h3v1h-3zM513 309h3v1h-3zM516 308h2v1h-2zM518 307h4v1h-4zM522 306h4v1h-4zM526 305h3v1h-3zM529 304h2v1h-2zM531 303h2v1h-2zM533 302h2v1h-2zM535 301h2v1h-2zM537 300h3v1h-3zM540 299h2v1h-2zM542 298h4v1h-4zM546 297h4v1h-4zM550 296h3v1h-3zM553 295h3v1h-3zM556 294h2v1h-2zM558 293h3v1h-3zM561 292h3v1h-3zM564 291h2v1h-2zM566 290h3v1h-3zM569 289h3v1h-3zM572 288h2v1h-2zM574 287h3v1h-3zM577 286h2v1h-2zM579 285h2v1h-2zM581 284h2v1h-2zM583 283h2v1h-2zM585 282h2v1h-2zM587 281h2v1h-2zM589 280h2v1h-2zM591 279h2v1h-2zM593 278h2v1h-2zM595 277h2v1h-2zM597 276h2v1h-2zM599 275h1v1h-1zM600 274h2v1h-2zM602 273h2v1h-2zM604 272h1v1h-1zM605 271h2v1h-2zM607 270h1v1h-1zM608 269h2v1h-2zM610 268h1v1h-1zM611 267h1v1h-1zM612 266h2v1h-2zM614 265h1v1h-1zM615 264h1v1h-1zM616 263h2v1h-2zM618 262h2v1h-2zM620 261h1v1h-1zM621 260h2v1h-2zM623 259h1v1h-1zM624 258h2v1h-2zM626 257h1v1h-1zM627 256h1v1h-1zM628 255h2v1h-2zM630 254h1v1h-1zM631 253h1v1h-1zM632 252h2v1h-2zM634 251h2v1h-2zM636 250h1v1h-1zM637 249h2v1h-2zM639 248h1v1h-1zM640 247h2v1h-2zM642 246h2v1h-2zM644 245h1v1h-1zM645 244h2v1h-2zM647 243h1v1h-1zM648 242h2v1h-2zM650 241h2v1h-2zM652 240h1v1h-1zM653 239h2v1h-2zM655 238h2v1h-2zM657 237h2v1h-2zM659 236h2v1h-2zM661 235h2v1h-2zM663 234h2v1h-2zM665 233h2v1h-2zM667 232h2v1h-2zM669 231h2v1h-2zM671 230h1v1h-1zM672 229h2v1h-2zM674 228h2v1h-2zM676 227h1v1h-1zM677 226h2v1h-2zM679 225h1v1h-1zM680 224h2v1h-2zM682 223h2v1h-2zM684 222h1v1h-1zM685 221h2v1h-2zM687 220h1v1h-1zM688 219h2v1h-2zM690 218h2v1h-2zM692 217h1v1h-1zM693 216h2v1h-2zM695 215h1v1h-1zM696 214h2v1h-2zM698 213h1v1h-1zM699 212h1v1h-1zM700 211h2v1h-2zM702 210h1v1h-1zM703 209h1v1h-1zM704 208h2v1h-2zM706 207h2v1h-2zM708 206h1v1h-1zM709 205h2v1h-2zM711 204h1v1h-1zM712 203h2v1h-2zM714 202h2v1h-2zM716 201h1v1h-1zM717 200h2v1h-2zM719 199h1v1h-1zM720 198h2v1h-2zM722 197h2v1h-2zM724 196h1v1h-1zM725 195h2v1h-2zM727 194h2v1h-2zM729 193h2v1h-2zM731 192h2v1h-2zM733 191h2v1h-2zM735 190h2v1h-2zM737 189h2v1h-2zM739 188h2v1h-2zM741 187h2v1h-2zM743 186h2v1h-2zM745 185h2v1h-2zM747 184h2v1h-2zM749 183h2v1h-2zM751 182h2v1h-2zM753 181h2v1h-2zM755 180h2v1h-2zM757 179h2v1h-2zM759 178h2v1h-2zM761 177h3v1h-3zM764 176h2v1h-2zM766 175h3v1h-3zM769 174h3v1h-3zM772 173h2v1h-2zM774 172h4v1h-4zM778 171h4v1h-4zM782 170h4v1h-4zM786 169h4v1h-4zM790 168h4v1h-4zM794 167h4v1h-4zM798 166h6v1h-6zM804 165h22v1h-22zM826 164h4v1h-4zM830 163h6v1h-6zM836 162h6v1h-6zM842 161h4v1h-4zM846 160h6v1h-6zM852 159h6v1h-6zM858 158h4v1h-4zM862 157h14v1h-14zM876 156h8v1h-8zM884 155h8v1h-8zM892 154h16v1h-16zM908 155h40v1h-40zM948 156h8v1h-8zM956 157h80v1h-80zM1036 158h16v1h-16zM1052 159h8v1h-8zM1060 160h8v1h-8zM1068 161h8v1h-8zM1076 162h6v1h-6zM1082 163h4v1h-4zM1086 164h6v1h-6zM1092 165h8v1h-8zM1100 166h6v1h-6zM1106 167h4v1h-4zM1110 168h3v1h-3zM1113 169h3v1h-3zM1116 170h2v1h-2zM1118 171h3v1h-3zM1121 172h3v1h-3zM1124 173h2v1h-2zM1126 174h4v1h-4zM1130 175h4v1h-4zM1134 176h4v1h-4zM1138 177h4v1h-4zM1142 178h4v1h-4zM1146 179h4v1h-4zM1150 180h3v1h-3zM1153 181h3v1h-3zM1156 182h2v1h-2zM1158 183h3v1h-3zM1161 184h3v1h-3zM1164 185h2v1h-2zM1166 186h4v1h-4zM1170 187h4v1h-4zM1174 188h4v1h-4zM1178 189h4v1h-4zM1182 190h6v1h-6zM1188 191h14v1h-14zM1202 190h4v1h-4zM1206 189h4v1h-4zM1210 188h4v1h-4zM1214 187h6v1h-6zM1220 186h6v1h-6zM1226 185h4v1h-4zM1230 184h6v1h-6zM1236 183h5v1h-5zM1241 182h3v1h-3zM1244 181h2v1h-2zM1246 180h4v1h-4zM1250 179h4v1h-4zM1254 178h14v1h-14zM1268 177h16v1h-16zM1284 178h8v1h-8zM1292 179h8v1h-8zM1300 178h27v1h-27z" fill="#ff00ff"/>
<rect x="0" y="50" width="1679" height="2" fill="#ff0000"/>
<rect x="0" y="225" width="1679" height="2" fill="#32cd32"/>
<rect x="0" y="428" width="1679" height="2" fill="#4169e1"/>
<rect x="-2" y="48" width="6" height="6" fill="#ff0000"/><rect x="0" y="50" width="2" height="2" fill="#fff"/>
<rect x="1673" y="48" width="6" height="6" fill="#ff0000"/><rect x="1675" y="50" width="2" height="2" fill="#fff"/>
<rect x="7" y="603" width="1" height="57" fill="#c0c0c0"/>
<rect x="15" y="603" width="1" height="57" fill="#c0c0c0"/>
<rect x="23" y="603" width="1" height="55" fill="#c0c0c0"/>
<rect x="31" y="603" width="1" height="53" fill="#c0c0c0"/>
<rect x="39" y="603" width="1" height="46" fill="#c0c0c0"/>
<rect x="47" y="603" width="1" height="38" fill="#c0c0c0"/>
<rect x="55" y="603" width="1" height="36" fill="#c0c0c0"/>
<rect x="63" y="603" width="1" height="35" fill="#c0c0c0"/>
<rect x="71" y="603" width="1" height="31" fill="#c0c0c0"/>
<rect x="79" y="603" width="1" height="29" fill="#c0c0c0"/>
<rect x="87" y="603" width="1" height="24" fill="#c0c0c0"/>
<rect x="95" y="603" width="1" height="27" fill="#c0c0c0"/>
<rect x="103" y="603" width="1" height="23" fill="#c0c0c0"/>
<rect x="111" y="603" width="1" height="21" fill="#c0c0c0"/>
<rect x="119" y="603" width="1" height="21" fill="#c0c0c0"/>
<rect x="127" y="603" width="1" height="23" fill="#c0c0c0"/>
<rect x="135" y="603" width="1" height="25" fill="#c0c0c0"/>
<rect x="143" y="603" width="1" height="28" fill="#c0c0c0"/>
<rect x="151" y="603" width="1" height="37" fill="#c0c0c0"/>
<rect x="159" y="603" width="1" height="43" fill="#c0c0c0"/>
<rect x="167" y="603" width="1" height="48" fill="#c0c0c0"/>
<rect x="175" y="603" width="1" height="53" fill="#c0c0c0"/>
<rect x="183" y="603" width="1" height="59" fill="#c0c0c0"/>
<rect x="191" y="603" width="1" height="59" fill="#c0c0c0"/>
<rect x="199" y="603" width="1" height="55" fill="#c0c0c0"/>
<rect x="207" y="603" width="1" height="50" fill="#c0c0c0"/>
<rect x="215" y="603" width="1" height="44" fill="#c0c0c0"/>
<rect x="223" y="603" width="1" height="34" fill="#c0c0c0"/>
<rect x="231" y="603" width="1" height="25" fill="#c0c0c0"/>
<rect x="239" y="603" width="1" height="18" fill="#c0c0c0"/>
<rect x="247" y="603" width="1" height="17" fill="#c0c0c0"/>
<rect x="255" y="603" width="1" height="11" fill="#c0c0c0"/>
<rect x="263" y="603" width="1" height="7" fill="#c0c0c0"/>
<rect x="271" y="603" width="1" height="1" fill="#c0c0c0"/>
<rect x="279" y="603" width="1" height="1" fill="#c0c0c0"/>
<rect x="287" y="594" width="1" height="10" fill="#c0c0c0"/>
<rect x="295" y="590" width="1" height="14" fill="#c0c0c0"/>
<rect x="303" y="581" width="1" height="23" fill="#c0c0c0"/>
<rect x="311" y="577" width="1" height="27" fill="#c0c0c0"/>
<rect x="319" y="576" width="1" height="28" fill="#c0c0c0"/>
<rect x="327" y="569" width="1" height="35" fill="#c0c0c0"/>
<rect x="335" y="567" width="1" height="37" fill="#c0c0c0"/>
<rect x="343" y="564" width="1" height="40" fill="#c0c0c0"/>
<rect x="351" y="562" width="1" height="42" fill="#c0c0c0"/>
<rect x="359" y="561" width="1" height="43" fill="#c0c0c0"/>
<rect x="367" y="557" width="1" height="47" fill="#c0c0c0"/>
<rect x="375" y="546" width="1" height="58" fill="#c0c0c0"/>
<rect x="383" y="537" width="1" height="67" fill="#c0c0c0"/>
<rect x="391" y="540" width="1" height="64" fill="#c0c0c0"/>
<rect x="399" y="543" width="1" height="61" fill="#c0c0c0"/>
<rect x="407" y="547" width="1" height="57" fill="#c0c0c0"/>
<rect x="415" y="546" width="1" height="58" fill="#c0c0c0"/>
<rect x="423" y="544" width="1" height="60" fill="#c0c0c0"/>
<rect x="431" y="542" width="1" height="62" fill="#c0c0c0"/>
<rect x="439" y="542" width="1" height="62" fill="#c0c0c0"/>
<rect x="447" y="545" width="1" height="59" fill="#c0c0c0"/>
<rect x="455" y="547" width="1" height="57" fill="#c0c0c0"/>
<rect x="463" y="553" width="1" height="51" fill="#c0c0c0"/>
<rect x="471" y="552" width="1" height="52" fill="#c0c0c0"/>
<rect x="479" y="546" width="1" height="58" fill="#c0c0c0"/>
<rect x="487" y="555" width="1" height="49" fill="#c0c0c0"/>
<rect x="495" y="559" width="1" height="45" fill="#c0c0c0"/>
<rect x="503" y="561" width="1" height="43" fill="#c0c0c0"/>
<rect x="511" y="562" width="1" height="42" fill="#c0c0c0"/>
<rect x="519" y="564" width="1" height="40" fill="#c0c0c0"/>
<rect x="527" y="569" width="1" height="35" fill="#c0c0c0"/>
<rect x="535" y="568" width="1" height="36" fill="#c0c0c0"/>
<rect x="543" y="564" width="1" height="40" fill="#c0c0c0"/>
<rect x="551" y="566" width="1" height="38" fill="#c0c0c0"/>
<rect x="559" y="571" width="1" height="33" fill="#c0c0c0"/>
<rect x="567" y="574" width="1" height="30" fill="#c0c0c0"/>
<rect x="575" y="579" width="1" height="25" fill="#c0c0c0"/>
<rect x="583" y="580" width="1" height="24" fill="#c0c0c0"/>
<rect x="591" y="580" width="1" height="24" fill="#c0c0c0"/>
<rect x="599" y="580" width="1" height="24" fill="#c0c0c0"/>
<rect x="607" y="579" width="1" height="25" fill="#c0c0c0"/>
<rect x="615" y="577" width="1" height="27" fill="#c0c0c0"/>
<rect x="623" y="577" width="1" height="27" fill="#c0c0c0"/>
<rect x="631" y="574" width="1" height="30" fill="#c0c0c0"/>
<rect x="639" y="576" width="1" height="28" fill="#c0c0c0"/>
<rect x="647" y="579" width="1" height="25" fill="#c0c0c0"/>
<rect x="655" y="578" width="1" height="26" fill="#c0c0c0"/>
<rect x="663" y="576" width="1" height="28" fill="#c0c0c0"/>
<rect x="671" y="573" width="1" height="31" fill="#c0c0c0"/>
<rect x="679" y="566" width="1" height="38" fill="#c0c0c0"/>
<rect x="687" y="558" width="1" height="46" fill="#c0c0c0"/>
<rect x="695" y="552" width="1" height="52" fill="#c0c0c0"/>
<rect x="703" y="549" width="1" height="55" fill="#c0c0c0"/>
<rect x="711" y="544" width="1" height="60" fill="#c0c0c0"/>
<rect x="719" y="544" width="1" height="60" fill="#c0c0c0"/>
<rect x="727" y="545" width="1" height="59" fill="#c0c0c0"/>
<rect x="735" y="544" width="1" height="60" fill="#c0c0c0"/>
<rect x="743" y="543" width="1" height="61" fill="#c0c0c0"/>
<rect x="751" y="545" width="1" height="59" fill="#c0c0c0"/>
<rect x="759" y="550" width="1" height="54" fill="#c0c0c0"/>
<rect x="767" y="559" width="1" height="45" fill="#c0c0c0"/>
<rect x="775" y="570" width="1" height="34" fill="#c0c0c0"/>
<rect x="783" y="578" width="1" height="26" fill="#c0c0c0"/>
<rect x="791" y="583" width="1" height="21" fill="#c0c0c0"/>
<rect x="799" y="590" width="1" height="14" fill="#c0c0c0"/>
<rect x="807" y="600" width="1" height="4" fill="#c0c0c0"/>
<rect x="815" y="603" width="1" height="7" fill="#c0c0c0"/>
<rect x="823" y="603" width="1" height="11" fill="#c0c0c0"/>
<rect x="831" y="603" width="1" height="11" fill="#c0c0c0"/>
<rect x="839" y="603" width="1" height="12" fill="#c0c0c0"/>
<rect x="847" y="603" width="1" height="7" fill="#c0c0c0"/>
<rect x="855" y="603" width="1" height="7" fill="#c0c0c0"/>
<rect x="863" y="603" width="1" height="3" fill="#c0c0c0"/>
<rect x="871" y="603" width="1" height="7" fill="#c0c0c0"/>
<rect x="879" y="603" width="1" height="9" fill="#c0c0c0"/>
<rect x="887" y="603" width="1" height="9" fill="#c0c0c0"/>
<rect x="895" y="603" width="1" height="13" fill="#c0c0c0"/>
<rect x="903" y="603" width="1" height="15" fill="#c0c0c0"/>
<rect x="911" y="603" width="1" height="21" fill="#c0c0c0"/>
<rect x="919" y="603" width="1" height="24" fill="#c0c0c0"/>
<rect x="927" y="603" width="1" height="25" fill="#c0c0c0"/>
<rect x="935" y="603" width="1" height="27" fill="#c0c0c0"/>
<rect x="943" y="603" width="1" height="32" fill="#c0c0c0"/>
<rect x="951" y="603" width="1" height="33" fill="#c0c0c0"/>
<rect x="959" y="603" width="1" height="37" fill="#c0c0c0"/>
<rect x="967" y="603" width="1" height="31" fill="#c0c0c0"/>
<rect x="975" y="603" width="1" height="27" fill="#c0c0c0"/>
<rect x="983" y="603" width="1" height="23" fill="#c0c0c0"/>
<rect x="991" y="603" width="1" height="23" fill="#c0c0c0"/>
<rect x="999" y="603" width="1" height="18" fill="#c0c0c0"/>
<rect x="1007" y="603" width="1" height="24" fill="#c0c0c0"/>
<rect x="1015" y="603" width="1" height="23" fill="#c0c0c0"/>
<rect x="1023" y="603" width="1" height="23" fill="#c0c0c0"/>
<rect x="1031" y="603" width="1" height="23" fill="#c0c0c0"/>
<rect x="1039" y="603" width="1" height="18" fill="#c0c0c0"/>
<rect x="1047" y="603" width="1" height="14" fill="#c0c0c0"/>
<rect x="1055" y="603" width="1" height="11" fill="#c0c0c0"/>
<rect x="1063" y="603" width="1" height="14" fill="#c0c0c0"/>
<rect x="1071" y="603" width="1" height="17" fill="#c0c0c0"/>
<rect x="1079" y="603" width="1" height="19" fill="#c0c0c0"/>
<rect x="1087" y="603" width="1" height="21" fill="#c0c0c0"/>
<rect x="1095" y="603" width="1" height="21" fill="#c0c0c0"/>
<rect x="1103" y="603" width="1" height="21" fill="#c0c0c0"/>
<rect x="1111" y="603" width="1" height="21" fill="#c0c0c0"/>
<rect x="1119" y="603" width="1" height="19" fill="#c0c0c0"/>
<rect x="1127" y="603" width="1" height="19" fill="#c0c0c0"/>
<rect x="1135" y="603" width="1" height="13" fill="#c0c0c0"/>
<rect x="1143" y="603" width="1" height="12" fill="#c0c0c0"/>
<rect x="1151" y="603" width="1" height="14" fill="#c0c0c0"/>
<rect x="1159" y="603" width="1" height="13" fill="#c0c0c0"/>
<rect x="1167" y="603" width="1" height="6" fill="#c0c0c0"/>
<rect x="1175" y="603" width="1" height="1" fill="#c0c0c0"/>
<rect x="1183" y="596" width="1" height="8" fill="#c0c0c0"/>
<rect x="1191" y="588" width="1" height="16" fill="#c0c0c0"/>
<rect x="1199" y="576" width="1" height="28" fill="#c0c0c0"/>
<rect x="1207" y="562" width="1" height="42" fill="#c0c0c0"/>
<rect x="1215" y="554" width="1" height="50" fill="#c0c0c0"/>
<rect x="1223" y="546" width="1" height="58" fill="#c0c0c0"/>
<rect x="1231" y="543" width="1" height="61" fill="#c0c0c0"/>
<rect x="1239" y="540" width="1" height="64" fill="#c0c0c0"/>
<rect x="1247" y="540" width="1" height="64" fill="#c0c0c0"/>
<rect x="1255" y="544" width="1" height="60" fill="#c0c0c0"/>
<rect x="1263" y="555" width="1" height="49" fill="#c0c0c0"/>
<rect x="1271" y="564" width="1" height="40" fill="#c0c0c0"/>
<rect x="1279" y="572" width="1" height="32" fill="#c0c0c0"/>
<rect x="1287" y="582" width="1" height="22" fill="#c0c0c0"/>
<rect x="1295" y="588" width="1" height="16" fill="#c0c0c0"/>
<rect x="1303" y="590" width="1" height="14" fill="#c0c0c0"/>
<rect x="1311" y="593" width="1" height="11" fill="#c0c0c0"/>
<rect x="1319" y="595" width="1" height="9" fill="#c0c0c0"/>
<rect x="1327" y="597" width="1" height="7" fill="#c0c0c0"/>
<path d="M0 683h2v1h-2zM5 680h2v1h-2zM7 679h1v1h-1zM11 677h1v1h-1zM12 676h1v1h-1zM13 675h1v1h-1zM17 673h3v1h-3zM23 671h2v1h-2zM25 670h1v1h-1zM29 669h1v1h-1zM30 668h2v1h-2zM35 666h2v1h-2zM37 665h1v1h-1zM41 663h2v1h-2zM43 662h1v1h-1zM47 660h2v1h-2zM49 659h1v1h-1zM53 657h2v1h-2zM55 656h1v1h-1zM59 654h2v1h-2zM61 653h1v1h-1zM65 651h2v1h-2zM67 650h1v1h-1zM71 648h2v1h-2zM73 647h1v1h-1zM77 646h1v1h-1zM78 645h2v1h-2zM83 644h1v1h-1zM84 643h2v1h-2zM89 641h3v1h-3zM95 639h2v1h-2zM97 638h1v1h-1zM101 636h2v1h-2zM103 635h1v1h-1zM107 634h3v1h-3zM113 633h1v1h-1zM114 632h2v1h-2zM119 631h3v1h-3zM125 630h1v1h-1zM126 629h2v1h-2zM131 629h1v1h-1zM132 628h2v1h-2zM137 628h3v1h-3zM143 628h3v1h-3zM149 629h3v1h-3zM155 630h3v1h-3zM161 632h3v1h-3zM167 634h2v1h-2zM169 635h1v1h-1zM173 636h1v1h-1zM174 637h2v1h-2zM179 639h2v1h-2zM181 640h1v1h-1zM185 642h2v1h-2zM187 643h1v1h-1zM191 645h2v1h-2zM193 646h1v1h-1zM197 647h1v1h-1zM198 648h2v1h-2zM203 649h1v1h-1zM204 650h2v1h-2zM209 651h3v1h-3zM215 652h3v1h-3zM221 652h3v1h-3zM227 651h3v1h-3zM233 649h2v1h-2zM235 648h1v1h-1zM239 646h2v1h-2zM241 645h1v1h-1zM245 643h2v1h-2zM247 642h1v1h-1zM251 640h1v1h-1zM252 639h1v1h-1zM253 638h1v1h-1zM257 636h1v1h-1zM258 635h2v1h-2zM263 632h1v1h-1zM264 631h2v1h-2zM269 628h1v1h-1zM270 627h1v1h-1zM271 626h1v1h-1zM275 623h1v1h-1zM276 622h2v1h-2zM281 619h1v1h-1zM282 618h2v1h-2zM287 615h1v1h-1zM288 614h2v1h-2zM293 611h2v1h-2zM295 610h1v1h-1zM299 607h1v1h-1zM300 606h2v1h-2zM305 603h1v1h-1zM306 602h2v1h-2zM311 599h1v1h-1zM312 598h2v1h-2zM317 595h2v1h-2zM319 594h1v1h-1zM323 592h1v1h-1zM324 591h1v1h-1zM325 590h1v1h-1zM329 588h1v1h-1zM330 587h1v1h-1zM331 586h1v1h-1zM335 583h1v1h-1zM336 582h2v1h-2zM341 579h2v1h-2zM343 578h1v1h-1zM347 576h2v1h-2zM349 575h1v1h-1zM353 573h2v1h-2zM355 572h1v1h-1zM359 570h2v1h-2zM361 569h1v1h-1zM365 567h2v1h-2zM367 566h1v1h-1zM371 564h2v1h-2zM373 563h1v1h-1zM377 561h2v1h-2zM379 560h1v1h-1zM383 558h2v1h-2zM385 557h1v1h-1zM389 555h2v1h-2zM391 554h1v1h-1zM395 553h3v1h-3zM401 552h1v1h-1zM402 551h2v1h-2zM407 550h3v1h-3zM413 549h1v1h-1zM414 548h2v1h-2zM419 547h3v1h-3zM425 546h1v1h-1zM426 545h2v1h-2zM431 544h3v1h-3zM437 543h1v1h-1zM438 542h2v1h-2zM443 542h3v1h-3zM449 542h3v1h-3zM455 543h3v1h-3zM461 544h3v1h-3zM467 545h3v1h-3zM473 546h3v1h-3zM479 546h3v1h-3zM485 546h3v1h-3zM491 547h3v1h-3zM497 548h1v1h-1zM498 549h2v1h-2zM503 550h3v1h-3zM509 551h1v1h-1zM510 552h2v1h-2zM515 553h1v1h-1zM516 554h2v1h-2zM521 555h1v1h-1zM522 556h2v1h-2zM527 557h3v1h-3zM533 558h1v1h-1zM534 559h2v1h-2zM539 559h1v1h-1zM540 560h2v1h-2zM545 560h1v1h-1zM546 561h2v1h-2zM551 562h3v1h-3zM557 563h3v1h-3zM563 564h3v1h-3zM569 566h3v1h-3zM575 568h3v1h-3zM581 569h3v1h-3zM587 570h3v1h-3zM593 571h1v1h-1zM594 572h2v1h-2zM599 573h3v1h-3zM605 574h3v1h-3zM611 574h1v1h-1zM612 575h2v1h-2zM617 575h3v1h-3zM623 576h3v1h-3zM629 577h3v1h-3zM635 577h3v1h-3zM641 577h3v1h-3zM647 577h3v1h-3zM653 577h3v1h-3zM659 577h1v1h-1zM660 576h2v1h-2zM665 576h3v1h-3zM671 575h3v1h-3zM677 574h1v1h-1zM678 573h2v1h-2zM683 573h1v1h-1zM684 572h2v1h-2zM689 571h3v1h-3zM695 569h2v1h-2zM697 568h1v1h-1zM701 566h2v1h-2zM703 565h1v1h-1zM707 564h1v1h-1zM708 563h2v1h-2zM713 561h3v1h-3zM719 559h2v1h-2zM721 558h1v1h-1zM725 556h2v1h-2zM727 555h1v1h-1zM731 554h1v1h-1zM732 553h2v1h-2zM737 551h3v1h-3zM743 549h2v1h-2zM745 548h1v1h-1zM749 547h1v1h-1zM750 546h2v1h-2zM755 546h1v1h-1zM756 545h2v1h-2zM761 545h3v1h-3zM767 545h2v1h-2zM769 546h1v1h-1zM773 547h1v1h-1zM774 548h2v1h-2zM779 550h2v1h-2zM781 551h1v1h-1zM785 553h1v1h-1zM786 554h2v1h-2zM791 557h1v1h-1zM792 558h2v1h-2zM797 561h2v1h-2zM799 562h1v1h-1zM803 565h1v1h-1zM804 566h2v1h-2zM809 570h1v1h-1zM810 571h2v1h-2zM815 575h1v1h-1zM816 576h1v1h-1zM817 577h1v1h-1zM821 581h1v1h-1zM822 582h1v1h-1zM823 583h1v1h-1zM827 586h1v1h-1zM828 587h1v1h-1zM829 588h1v1h-1zM833 591h1v1h-1zM834 592h1v1h-1zM835 593h1v1h-1zM839 596h1v1h-1zM840 597h2v1h-2zM845 600h2v1h-2zM847 601h1v1h-1zM851 602h1v1h-1zM852 603h2v1h-2zM857 605h2v1h-2zM859 606h1v1h-1zM863 608h3v1h-3zM869 609h1v1h-1zM870 610h2v1h-2zM875 610h1v1h-1zM876 611h2v1h-2zM881 611h3v1h-3zM887 612h3v1h-3zM893 612h3v1h-3zM899 612h1v1h-1zM900 613h2v1h-2zM905 613h3v1h-3zM911 614h3v1h-3zM917 615h3v1h-3zM923 616h3v1h-3zM929 617h1v1h-1zM930 618h2v1h-2zM935 619h2v1h-2zM937 620h1v1h-1zM941 622h2v1h-2zM943 623h1v1h-1zM947 624h3v1h-3zM953 626h3v1h-3zM959 628h3v1h-3zM965 629h1v1h-1zM966 630h2v1h-2zM971 631h3v1h-3zM977 632h3v1h-3zM983 632h3v1h-3zM989 632h3v1h-3zM995 632h1v1h-1zM996 631h2v1h-2zM1001 631h3v1h-3zM1007 630h3v1h-3zM1013 629h3v1h-3zM1019 629h1v1h-1zM1020 628h2v1h-2zM1025 628h3v1h-3zM1031 627h3v1h-3zM1037 626h1v1h-1zM1038 625h2v1h-2zM1043 625h1v1h-1zM1044 624h2v1h-2zM1049 624h3v1h-3zM1055 623h3v1h-3zM1061 622h3v1h-3zM1067 622h1v1h-1zM1068 621h2v1h-2zM1073 621h3v1h-3zM1079 621h3v1h-3zM1085 621h3v1h-3zM1091 621h3v1h-3zM1097 621h3v1h-3zM1103 621h3v1h-3zM1109 621h3v1h-3zM1115 621h3v1h-3zM1121 621h3v1h-3zM1127 621h3v1h-3zM1133 622h3v1h-3zM1139 622h3v1h-3zM1145 622h3v1h-3zM1151 621h3v1h-3zM1157 620h3v1h-3zM1163 620h1v1h-1zM1164 619h2v1h-2zM1169 618h3v1h-3zM1175 616h2v1h-2zM1177 615h1v1h-1zM1181 614h1v1h-1zM1182 613h2v1h-2zM1187 611h2v1h-2zM1189 610h1v1h-1zM1193 608h1v1h-1zM1194 607h1v1h-1zM1195 606h1v1h-1zM1199 603h1v1h-1zM1200 602h2v1h-2zM1205 599h2v1h-2zM1207 598h1v1h-1zM1211 595h1v1h-1zM1212 594h1v1h-1zM1213 593h1v1h-1zM1217 589h1v1h-1zM1218 588h1v1h-1zM1219 587h1v1h-1zM1223 583h1v1h-1zM1224 582h1v1h-1zM1225 581h1v1h-1zM1228 577h1v1h-1zM1229 576h1v1h-1zM1230 575h1v1h-1zM1234 571h2v1h-2zM1236 570h1v1h-1zM1240 566h1v1h-1zM1241 565h1v1h-1zM1242 564h1v1h-1zM1246 560h1v1h-1zM1247 559h1v1h-1zM1248 558h1v1h-1zM1252 556h1v1h-1zM1253 555h2v1h-2zM1258 553h1v1h-1zM1259 552h2v1h-2zM1264 550h3v1h-3zM1270 549h3v1h-3zM1276 550h3v1h-3zM1282 551h2v1h-2zM1284 552h1v1h-1zM1288 554h2v1h-2zM1290 555h1v1h-1zM1294 557h1v1h-1zM1295 558h1v1h-1zM1296 559h1v1h-1zM1300 561h1v1h-1zM1301 562h2v1h-2zM1306 565h1v1h-1zM1307 566h1v1h-1zM1308 567h1v1h-1zM1312 570h2v1h-2zM1314 571h1v1h-1zM1318 574h1v1h-1zM1319 575h1v1h-1zM1320 576h1v1h-1zM1324 579h2v1h-2zM1326 580h1v1h-1z" fill="#ff0000"/>
<line x1="0" y1="733.5" x2="1679" y2="733.5" stroke="#c0c0c0" stroke-width="1" stroke-dasharray="3 3"/>
<line x1="0" y1="782.5" x2="1679" y2="782.5" stroke="#c0c0c0" stroke-width="1" stroke-dasharray="3 3"/>
</g>
<g shape-rendering="crispEdges">
<path d="M0 759h1v1h-1zM1 760h1v1h-1zM2 761h2v1h-2zM4 762h1v1h-1zM5 763h1v1h-1zM6 764h1v1h-1zM7 765h1v1h-1zM8 766h2v1h-2zM10 767h2v1h-2zM12 768h1v1h-1zM13 769h2v1h-2zM15 770h3v1h-3zM18 769h4v1h-4zM22 768h3v1h-3zM25 767h3v1h-3zM28 766h2v1h-2zM30 765h2v1h-2zM32 764h2v1h-2zM34 763h2v1h-2zM36 762h1v1h-1zM37 761h2v1h-2zM39 760h2v1h-2zM41 759h3v1h-3zM44 758h2v1h-2zM46 757h2v1h-2zM48 758h2v1h-2zM50 759h1v1h-1zM51 760h1v1h-1zM52 761h2v1h-2zM54 762h1v1h-1zM55 763h5v1h-5zM60 764h5v1h-5zM65 763h2v1h-2zM67 762h2v1h-2zM69 761h2v1h-2zM71 760h3v1h-3zM74 761h4v1h-4zM78 762h3v1h-3zM81 761h2v1h-2zM83 760h2v1h-2zM85 759h2v1h-2zM87 758h1v1h-1zM88 759h1v1h-1zM89 760h1v1h-1zM90 761h1v1h-1zM91 762h1v1h-1zM92 763h1v1h-1zM93 764h1v1h-1zM94 765h1v1h-1zM95 766h1v1h-1zM96 765h1v1h-1zM97 764h1v1h-1zM98 763h2v1h-2zM100 762h1v1h-1zM101 761h1v1h-1zM102 760h1v1h-1zM103 759h3v1h-3zM106 760h4v1h-4zM110 761h6v1h-6zM116 762h5v1h-5zM121 763h3v1h-3zM124 764h2v1h-2zM126 765h4v1h-4zM130 766h4v1h-4zM134 767h3v1h-3zM137 768h3v1h-3zM140 769h2v1h-2zM142 770h2v1h-2zM144 771h2v1h-2zM146 772h1v1h-1zM147 773h1v1h-1zM148 774h2v1h-2zM150 775h1v1h-1zM151 776h3v1h-3zM154 777h4v1h-4zM158 778h6v1h-6zM164 777h12v1h-12zM176 778h2v1h-2zM178 779h2v1h-2zM180 780h1v1h-1zM181 781h2v1h-2zM183 782h1v1h-1zM184 781h1v1h-1zM185 780h1v1h-1zM186 779h1v1h-1zM187 778h1v1h-1zM187 777h1v1h-1zM188 776h1v1h-1zM189 775h1v1h-1zM190 774h1v1h-1zM191 773h1v1h-1zM192 772h2v1h-2zM194 771h1v1h-1zM195 770h1v1h-1zM196 769h2v1h-2zM198 768h1v1h-1zM199 767h1v1h-1zM200 766h2v1h-2zM202 765h2v1h-2zM204 764h1v1h-1zM205 763h2v1h-2zM207 762h5v1h-5zM212 763h4v1h-4zM216 762h1v1h-1zM217 761h1v1h-1zM217 760h1v1h-1zM218 759h1v1h-1zM219 758h1v1h-1zM220 757h1v1h-1zM221 756h1v1h-1zM221 755h1v1h-1zM222 754h1v1h-1zM223 753h5v1h-5zM228 752h12v1h-12zM240 753h1v1h-1zM241 754h1v1h-1zM242 755h1v1h-1zM243 756h1v1h-1zM244 757h1v1h-1zM245 758h1v1h-1zM246 759h1v1h-1zM247 760h1v1h-1zM248 759h2v1h-2zM250 758h1v1h-1zM251 757h1v1h-1zM252 756h2v1h-2zM254 755h1v1h-1zM255 754h10v1h-10zM265 753h2v1h-2zM267 752h2v1h-2zM269 751h2v1h-2zM271 750h3v1h-3zM274 751h4v1h-4zM278 752h2v1h-2zM280 751h1v1h-1zM281 750h1v1h-1zM282 749h1v1h-1zM283 748h1v1h-1zM283 747h1v1h-1zM284 746h1v1h-1zM285 745h1v1h-1zM286 744h1v1h-1zM287 743h1v1h-1zM288 744h2v1h-2zM290 745h2v1h-2zM292 746h1v1h-1zM293 747h2v1h-2zM295 748h1v1h-1zM296 747h1v1h-1zM297 746h1v1h-1zM298 745h2v1h-2zM300 744h1v1h-1zM301 743h1v1h-1zM302 742h1v1h-1zM303 741h1v1h-1zM304 742h2v1h-2zM306 743h2v1h-2zM308 744h1v1h-1zM309 745h2v1h-2zM311 746h5v1h-5zM316 747h4v1h-4zM320 746h2v1h-2zM322 745h1v1h-1zM323 744h1v1h-1zM324 743h2v1h-2zM326 742h1v1h-1zM327 741h2v1h-2zM329 742h2v1h-2zM331 743h2v1h-2zM333 744h2v1h-2zM335 745h5v1h-5zM340 744h8v1h-8zM348 743h8v1h-8zM356 744h4v1h-4zM360 743h2v1h-2zM362 742h1v1h-1zM363 741h1v1h-1zM364 740h2v1h-2zM366 739h1v1h-1zM367 738h1v1h-1zM368 737h1v1h-1zM369 736h1v1h-1zM370 735h1v1h-1zM371 734h1v1h-1zM372 733h1v1h-1zM373 732h1v1h-1zM374 731h1v1h-1zM375 730h5v1h-5zM380 729h4v1h-4zM383 730h1v1h-1zM384 731h1v2h-1zM385 733h1v2h-1zM386 735h1v3h-1zM387 738h1v2h-1zM388 740h1v3h-1zM389 743h1v2h-1zM390 745h1v2h-1zM391 747h1v2h-1zM392 748h12v1h-12zM404 749h4v1h-4zM408 748h2v1h-2zM410 747h2v1h-2zM412 746h1v1h-1zM413 745h2v1h-2zM415 744h2v1h-2zM417 743h2v1h-2zM419 742h2v1h-2zM421 741h2v1h-2zM423 740h5v1h-5zM428 739h4v1h-4zM432 740h2v1h-2zM434 741h2v1h-2zM436 742h1v1h-1zM437 743h2v1h-2zM439 744h17v1h-17zM456 745h1v1h-1zM457 746h1v1h-1zM458 747h1v1h-1zM459 748h1v2h-1zM460 750h1v1h-1zM461 751h1v1h-1zM462 752h1v1h-1zM463 753h1v1h-1zM464 752h1v1h-1zM465 751h1v1h-1zM465 750h1v1h-1zM466 749h1v1h-1zM467 748h1v1h-1zM468 747h1v1h-1zM469 746h1v1h-1zM469 745h1v1h-1zM470 744h1v1h-1zM471 743h1v1h-1zM472 742h2v1h-2zM474 741h1v1h-1zM475 740h1v1h-1zM476 739h2v1h-2zM478 738h2v1h-2zM479 737h1v1h-1zM480 739h1v2h-1zM481 741h1v3h-1zM482 744h1v2h-1zM483 746h1v3h-1zM484 749h1v2h-1zM485 751h1v3h-1zM486 754h1v2h-1zM487 756h1v2h-1zM488 757h1v1h-1zM489 756h2v1h-2zM491 755h2v1h-2zM493 754h2v1h-2zM495 753h3v1h-3zM498 752h4v1h-4zM502 751h6v1h-6zM508 750h8v1h-8zM516 751h4v1h-4zM520 752h2v1h-2zM522 753h2v1h-2zM524 754h1v1h-1zM525 755h2v1h-2zM527 756h1v1h-1zM528 755h1v1h-1zM529 754h1v1h-1zM530 753h2v1h-2zM532 752h1v1h-1zM533 751h1v1h-1zM534 750h1v1h-1zM535 749h2v1h-2zM537 748h2v1h-2zM539 747h2v1h-2zM541 746h2v1h-2zM543 745h1v1h-1zM544 746h1v1h-1zM545 747h1v1h-1zM546 748h2v1h-2zM548 749h1v1h-1zM549 750h1v1h-1zM550 751h1v1h-1zM551 752h2v1h-2zM553 753h3v1h-3zM556 754h2v1h-2zM558 755h6v1h-6zM564 754h5v1h-5zM569 755h2v1h-2zM571 756h2v1h-2zM573 757h2v1h-2zM575 758h1v1h-1zM576 757h2v1h-2zM578 756h2v1h-2zM580 755h1v1h-1zM581 754h2v1h-2zM583 753h5v1h-5zM588 752h8v1h-8zM596 751h6v1h-6zM602 750h4v1h-4zM606 749h6v1h-6zM612 748h8v1h-8zM620 749h5v1h-5zM625 748h2v1h-2zM627 747h2v1h-2zM629 746h2v1h-2zM631 745h1v1h-1zM632 746h1v1h-1zM633 747h1v1h-1zM634 748h2v1h-2zM636 749h1v1h-1zM637 750h1v1h-1zM638 751h1v1h-1zM639 752h2v1h-2zM641 753h2v1h-2zM643 754h2v1h-2zM645 755h2v1h-2zM647 756h1v1h-1zM648 755h1v1h-1zM649 754h1v1h-1zM650 753h1v1h-1zM651 752h1v1h-1zM652 751h1v1h-1zM653 750h1v1h-1zM654 749h1v1h-1zM655 748h9v1h-9zM664 747h2v1h-2zM666 746h2v1h-2zM668 745h1v1h-1zM669 744h2v1h-2zM671 743h1v1h-1zM672 742h2v1h-2zM674 741h2v1h-2zM676 740h1v1h-1zM677 739h2v1h-2zM679 738h2v1h-2zM681 737h2v1h-2zM683 736h2v1h-2zM685 735h2v1h-2zM687 734h3v1h-3zM690 735h4v1h-4zM694 736h6v1h-6zM700 737h5v1h-5zM705 736h2v1h-2zM707 735h2v1h-2zM709 734h2v1h-2zM711 733h1v1h-1zM712 734h1v1h-1zM713 735h1v1h-1zM714 736h1v1h-1zM715 737h1v1h-1zM716 738h1v1h-1zM717 739h1v1h-1zM718 740h1v1h-1zM719 741h5v1h-5zM724 742h5v1h-5zM729 741h3v1h-3zM732 740h2v1h-2zM734 739h6v1h-6zM740 738h5v1h-5zM745 739h2v1h-2zM747 740h2v1h-2zM749 741h2v1h-2zM751 742h1v1h-1zM752 743h1v1h-1zM753 744h1v1h-1zM754 745h1v1h-1zM755 746h1v1h-1zM756 747h1v1h-1zM757 748h1v1h-1zM758 749h1v1h-1zM759 750h1v1h-1zM760 751h1v1h-1zM761 752h1v1h-1zM762 753h2v1h-2zM764 754h1v1h-1zM765 755h1v1h-1zM766 756h1v1h-1zM767 757h1v1h-1zM768 758h1v1h-1zM769 759h1v1h-1zM770 760h2v1h-2zM772 761h1v1h-1zM773 762h1v1h-1zM774 763h1v1h-1zM775 764h5v1h-5zM780 763h5v1h-5zM785 762h2v1h-2zM787 761h2v1h-2zM789 760h2v1h-2zM791 759h2v1h-2zM793 760h2v1h-2zM795 761h2v1h-2zM797 762h2v1h-2zM799 763h1v1h-1zM800 764h1v1h-1zM801 765h1v1h-1zM802 766h1v1h-1zM803 767h1v1h-1zM804 768h1v1h-1zM805 769h1v1h-1zM806 770h1v1h-1zM807 771h1v1h-1zM808 772h2v1h-2zM810 773h2v1h-2zM812 774h1v1h-1zM813 775h2v1h-2zM815 776h1v1h-1zM816 775h1v1h-1zM816 774h1v1h-1zM817 773h1v1h-1zM818 772h1v1h-1zM819 771h1v1h-1zM819 770h1v1h-1zM820 769h1v1h-1zM821 768h1v1h-1zM822 767h1v1h-1zM822 766h1v1h-1zM823 765h1v1h-1zM824 764h2v1h-2zM826 763h2v1h-2zM828 762h1v1h-1zM829 761h2v1h-2zM831 760h5v1h-5zM836 761h4v1h-4zM840 760h1v1h-1zM841 759h1v1h-1zM842 758h2v1h-2zM844 757h1v1h-1zM845 756h1v1h-1zM846 755h1v1h-1zM847 754h2v1h-2zM849 755h2v1h-2zM851 756h2v1h-2zM853 757h2v1h-2zM855 758h1v1h-1zM856 757h2v1h-2zM858 756h2v1h-2zM860 755h1v1h-1zM861 754h2v1h-2zM863 753h1v1h-1zM864 754h1v2h-1zM865 756h1v1h-1zM866 757h1v2h-1zM867 759h1v1h-1zM868 760h1v2h-1zM869 762h1v1h-1zM870 763h1v2h-1zM871 765h2v1h-2zM873 764h3v1h-3zM876 763h2v1h-2zM878 762h14v1h-14zM892 763h8v1h-8zM900 764h4v1h-4zM904 765h1v1h-1zM905 766h1v1h-1zM906 767h1v1h-1zM907 768h1v1h-1zM908 769h1v1h-1zM909 770h1v1h-1zM910 771h1v1h-1zM911 772h1v1h-1zM912 771h2v1h-2zM914 770h1v1h-1zM915 769h1v1h-1zM916 768h2v1h-2zM918 767h1v1h-1zM919 766h5v1h-5zM924 767h8v1h-8zM932 768h4v1h-4zM936 769h2v1h-2zM938 770h2v1h-2zM940 771h1v1h-1zM941 772h2v1h-2zM943 773h2v1h-2zM945 772h2v1h-2zM947 771h2v1h-2zM949 770h2v1h-2zM951 769h2v1h-2zM953 770h2v1h-2zM955 771h2v1h-2zM957 772h2v1h-2zM959 773h1v1h-1zM960 772h1v1h-1zM960 771h1v1h-1zM961 770h1v1h-1zM961 769h1v1h-1zM962 768h1v1h-1zM962 767h1v1h-1zM963 766h1v1h-1zM963 765h1v1h-1zM964 764h1v1h-1zM964 763h1v1h-1zM965 762h1v1h-1zM965 761h1v1h-1zM966 760h1v1h-1zM966 759h1v1h-1zM967 758h17v1h-17zM984 759h2v1h-2zM986 760h2v1h-2zM988 761h1v1h-1zM989 762h2v1h-2zM991 763h1v1h-1zM992 762h1v1h-1zM993 761h1v1h-1zM994 760h1v1h-1zM995 759h1v1h-1zM996 758h1v1h-1zM997 757h1v1h-1zM998 756h1v1h-1zM999 755h1v1h-1zM1000 756h1v2h-1zM1001 758h1v2h-1zM1002 760h1v2h-1zM1003 762h1v1h-1zM1004 763h1v2h-1zM1005 765h1v2h-1zM1006 767h1v2h-1zM1007 769h1v1h-1zM1008 768h1v1h-1zM1009 767h1v1h-1zM1010 766h1v1h-1zM1011 765h1v1h-1zM1012 764h1v1h-1zM1013 763h1v1h-1zM1014 762h1v1h-1zM1015 761h5v1h-5zM1020 762h6v1h-6zM1026 763h4v1h-4zM1030 764h2v1h-2zM1032 763h1v1h-1zM1033 762h1v1h-1zM1034 761h1v1h-1zM1035 760h1v1h-1zM1036 759h1v1h-1zM1037 758h1v1h-1zM1038 757h1v1h-1zM1039 756h5v1h-5zM1044 755h12v1h-12zM1056 756h1v1h-1zM1057 757h1v2h-1zM1058 759h1v1h-1zM1059 760h1v1h-1zM1060 761h1v1h-1zM1061 762h1v2h-1zM1062 764h1v1h-1zM1063 765h3v1h-3zM1066 766h4v1h-4zM1070 767h6v1h-6zM1076 766h6v1h-6zM1082 765h4v1h-4zM1086 764h14v1h-14zM1100 765h13v1h-13zM1113 764h3v1h-3zM1116 763h2v1h-2zM1118 762h10v1h-10zM1128 761h1v1h-1zM1129 760h1v1h-1zM1129 759h1v1h-1zM1130 758h1v1h-1zM1131 757h1v1h-1zM1132 756h1v1h-1zM1133 755h1v1h-1zM1133 754h1v1h-1zM1134 753h1v1h-1zM1135 752h1v1h-1zM1136 753h1v1h-1zM1137 754h1v1h-1zM1138 755h2v1h-2zM1140 756h1v1h-1zM1141 757h1v1h-1zM1142 758h1v1h-1zM1143 759h1v1h-1zM1144 760h1v1h-1zM1145 761h1v1h-1zM1146 762h2v1h-2zM1148 763h1v1h-1zM1149 764h1v1h-1zM1150 765h1v1h-1zM1151 766h1v1h-1zM1152 765h1v1h-1zM1153 764h1v1h-1zM1154 763h1v1h-1zM1155 762h1v1h-1zM1156 761h1v1h-1zM1157 760h1v1h-1zM1158 759h1v1h-1zM1159 758h1v1h-1zM1160 757h1v1h-1zM1161 756h1v1h-1zM1162 755h1v1h-1zM1163 754h1v1h-1zM1163 753h1v1h-1zM1164 752h1v1h-1zM1165 751h1v1h-1zM1166 750h1v1h-1zM1167 749h9v1h-9zM1176 748h2v1h-2zM1178 747h1v1h-1zM1179 746h1v1h-1zM1180 745h2v1h-2zM1182 744h1v1h-1zM1183 743h5v1h-5zM1188 742h4v1h-4zM1192 741h1v1h-1zM1193 740h1v1h-1zM1194 739h1v1h-1zM1195 738h1v1h-1zM1196 737h1v1h-1zM1197 736h1v1h-1zM1198 735h1v1h-1zM1199 734h2v1h-2zM1201 733h2v1h-2zM1203 732h2v1h-2zM1205 731h2v1h-2zM1207 730h2v1h-2zM1209 731h3v1h-3zM1212 732h2v1h-2zM1214 733h12v1h-12zM1226 734h4v1h-4zM1230 735h11v1h-11zM1241 736h3v1h-3zM1244 737h2v1h-2zM1246 738h2v1h-2zM1248 739h1v1h-1zM1249 740h1v1h-1zM1250 741h1v1h-1zM1251 742h1v1h-1zM1252 743h1v1h-1zM1253 744h1v1h-1zM1254 745h1v1h-1zM1255 746h1v1h-1zM1256 747h1v2h-1zM1257 749h1v2h-1zM1258 751h1v2h-1zM1259 753h1v2h-1zM1260 755h1v2h-1zM1261 757h1v2h-1zM1262 759h1v2h-1zM1263 761h3v1h-3zM1266 760h4v1h-4zM1270 759h4v1h-4zM1274 760h4v1h-4zM1278 761h2v1h-2zM1280 762h2v1h-2zM1282 763h2v1h-2zM1284 764h1v1h-1zM1285 765h2v1h-2zM1287 766h1v1h-1zM1288 765h2v1h-2zM1290 764h2v1h-2zM1292 763h1v1h-1zM1293 762h2v1h-2zM1295 761h2v1h-2zM1297 760h2v1h-2zM1299 759h2v1h-2zM1301 758h2v1h-2zM1303 757h3v1h-3zM1306 758h4v1h-4zM1310 759h14v1h-14zM1324 758h3v1h-3z" fill="#1e90ff"/>
</g>
<g shape-rendering="crispEdges">
<rect x="1680" y="27" width="2" height="1" fill="#000"/>
<rect x="1680" y="60" width="2" height="1" fill="#000"/>
<rect x="1680" y="93" width="2" height="1" fill="#000"/>
<rect x="1680" y="126" width="2" height="1" fill="#000"/>
<rect x="1680" y="159" width="2" height="1" fill="#000"/>
<rect x="1680" y="192" width="2" height="1" fill="#000"/>
<rect x="1680" y="225" width="2" height="1" fill="#000"/>
<rect x="1680" y="258" width="2" height="1" fill="#000"/>
<rect x="1680" y="291" width="2" height="1" fill="#000"/>
<rect x="1680" y="324" width="2" height="1" fill="#000"/>
<rect x="1680" y="357" width="2" height="1" fill="#000"/>
<rect x="1680" y="390" width="2" height="1" fill="#000"/>
<rect x="1680" y="423" width="2" height="1" fill="#000"/>
<rect x="1680" y="456" width="2" height="1" fill="#000"/>
<rect x="1680" y="489" width="2" height="1" fill="#000"/>
<rect x="1680" y="522" width="2" height="1" fill="#000"/>
<rect x="-1" y="820" width="1" height="3" fill="#000"/>
<rect x="63" y="820" width="1" height="3" fill="#000"/>
<rect x="127" y="820" width="1" height="3" fill="#000"/>
<rect x="191" y="820" width="1" height="3" fill="#000"/>
<rect x="255" y="820" width="1" height="3" fill="#000"/>
<rect x="319" y="820" width="1" height="3" fill="#000"/>
<rect x="383" y="820" width="1" height="3" fill="#000"/>
<rect x="447" y="820" width="1" height="3" fill="#000"/>
<rect x="511" y="820" width="1" height="3" fill="#000"/>
<rect x="575" y="820" width="1" height="3" fill="#000"/>
<rect x="639" y="820" width="1" height="3" fill="#000"/>
<rect x="703" y="820" width="1" height="3" fill="#000"/>
<rect x="767" y="820" width="1" height="3" fill="#000"/>
<rect x="831" y="820" width="1" height="3" fill="#000"/>
<rect x="895" y="820" width="1" height="3" fill="#000"/>
<rect x="959" y="820" width="1" height="3" fill="#000"/>
<rect x="1023" y="820" width="1" height="3" fill="#000"/>
<rect x="1087" y="820" width="1" height="3" fill="#000"/>
<rect x="1151" y="820" width="1" height="3" fill="#000"/>
<rect x="1215" y="820" width="1" height="3" fill="#000"/>
<rect x="1279" y="820" width="1" height="3" fill="#000"/>
<rect x="1681" y="45" width="38" height="11" fill="#ff0000"/>
<rect x="1681" y="144" width="38" height="11" fill="#000"/>
<rect x="1681" y="220" width="38" height="11" fill="#32cd32"/>
</g>
<text x="1685.5" y="31" class="t" textLength="32.5" lengthAdjust="spacingAndGlyphs">1834.15</text>
<text x="1685.5" y="64" class="t" textLength="32.5" lengthAdjust="spacingAndGlyphs">1828.45</text>
<text x="1685.5" y="97" class="t" textLength="32.5" lengthAdjust="spacingAndGlyphs">1822.75</text>
<text x="1685.5" y="130" class="t" textLength="32.5" lengthAdjust="spacingAndGlyphs">1817.20</text>
<text x="1685.5" y="163" class="t" textLength="32.5" lengthAdjust="spacingAndGlyphs">1811.50</text>
<text x="1685.5" y="196" class="t" textLength="32.5" lengthAdjust="spacingAndGlyphs">1805.80</text>
<text x="1685.5" y="262" class="t" textLength="32.5" lengthAdjust="spacingAndGlyphs">1794.40</text>
<text x="1685.5" y="295" class="t" textLength="32.5" lengthAdjust="spacingAndGlyphs">1788.70</text>
<text x="1685.5" y="328" class="t" textLength="32.5" lengthAdjust="spacingAndGlyphs">1783.00</text>
<text x="1685.5" y="361" class="t" textLength="32.5" lengthAdjust="spacingAndGlyphs">1777.30</text>
<text x="1685.5" y="394" class="t" textLength="32.5" lengthAdjust="spacingAndGlyphs">1771.60</text>
<text x="1685.5" y="427" class="t" textLength="32.5" lengthAdjust="spacingAndGlyphs">1765.90</text>
<text x="1685.5" y="460" class="t" textLength="32.5" lengthAdjust="spacingAndGlyphs">1760.35</text>
<text x="1685.5" y="493" class="t" textLength="32.5" lengthAdjust="spacingAndGlyphs">1754.65</text>
<text x="1685.5" y="526" class="t" textLength="32.5" lengthAdjust="spacingAndGlyphs">1748.95</text>
<rect x="1681" y="423" width="38" height="11" fill="#4169e1" shape-rendering="crispEdges"/>
<text x="1685.5" y="54" class="t w" textLength="32.5" lengthAdjust="spacingAndGlyphs">1830.00</text>
<text x="1685.5" y="153" class="t w" textLength="32.5" lengthAdjust="spacingAndGlyphs">1813.16</text>
<text x="1685.5" y="229" class="t w" textLength="32.5" lengthAdjust="spacingAndGlyphs">1800.00</text>
<text x="1685.5" y="432" class="t w" textLength="32.5" lengthAdjust="spacingAndGlyphs">1765.00</text>
<text x="1683.5" y="538" class="t" textLength="22.5" lengthAdjust="spacingAndGlyphs">8.149</text>
<text x="1683.5" y="606" class="t" textLength="17" lengthAdjust="spacingAndGlyphs">0.00</text>
<text x="1683.5" y="690" class="t" textLength="25" lengthAdjust="spacingAndGlyphs">-9.776</text>
<text x="1683.5" y="706" class="t" textLength="14.5" lengthAdjust="spacingAndGlyphs">100</text>
<text x="1683.5" y="737" class="t" textLength="9.5" lengthAdjust="spacingAndGlyphs">70</text>
<text x="1683.5" y="786" class="t" textLength="9.5" lengthAdjust="spacingAndGlyphs">30</text>
<text x="1683.5" y="816" class="t">0</text>
<polygon points="2,11 9.5,11 5.7,15" fill="#000"/>
<text x="14" y="16" class="t" textLength="204" lengthAdjust="spacingAndGlyphs" style="white-space:pre">XAUUSD-,H4&#160; 1812.98 1813.68 1812.84 1813.16</text>
<text x="3" y="540.5" class="t" textLength="118" lengthAdjust="spacingAndGlyphs">MACD(12,26,9) 0.758 2.434</text>
<text x="3" y="708" class="t" textLength="68" lengthAdjust="spacingAndGlyphs">RSI(14) 49.2607</text>
<text x="-2.5" y="832.6" class="t" textLength="50" lengthAdjust="spacingAndGlyphs">24 Jun 2021</text>
<text x="62" y="832.6" class="t" textLength="53" lengthAdjust="spacingAndGlyphs">25 Jun 16:00</text>
<text x="126" y="832.6" class="t" textLength="53" lengthAdjust="spacingAndGlyphs">29 Jun 00:00</text>
<text x="190" y="832.6" class="t" textLength="53" lengthAdjust="spacingAndGlyphs">30 Jun 08:00</text>
<text x="254" y="832.6" class="t" textLength="43.5" lengthAdjust="spacingAndGlyphs">1 Jul 16:00</text>
<text x="318" y="832.6" class="t" textLength="43.5" lengthAdjust="spacingAndGlyphs">5 Jul 00:00</text>
<text x="382" y="832.6" class="t" textLength="43.5" lengthAdjust="spacingAndGlyphs">6 Jul 08:00</text>
<text x="446" y="832.6" class="t" textLength="43.5" lengthAdjust="spacingAndGlyphs">7 Jul 16:00</text>
<text x="510" y="832.6" class="t" textLength="43.5" lengthAdjust="spacingAndGlyphs">9 Jul 00:00</text>
<text x="574" y="832.6" class="t" textLength="49" lengthAdjust="spacingAndGlyphs">12 Jul 08:00</text>
<text x="638" y="832.6" class="t" textLength="49" lengthAdjust="spacingAndGlyphs">13 Jul 16:00</text>
<text x="702" y="832.6" class="t" textLength="49" lengthAdjust="spacingAndGlyphs">15 Jul 00:00</text>
<text x="766" y="832.6" class="t" textLength="49" lengthAdjust="spacingAndGlyphs">16 Jul 08:00</text>
<text x="830" y="832.6" class="t" textLength="49" lengthAdjust="spacingAndGlyphs">19 Jul 16:00</text>
<text x="894" y="832.6" class="t" textLength="49" lengthAdjust="spacingAndGlyphs">21 Jul 00:00</text>
<text x="958" y="832.6" class="t" textLength="49" lengthAdjust="spacingAndGlyphs">22 Jul 08:00</text>
<text x="1022" y="832.6" class="t" textLength="49" lengthAdjust="spacingAndGlyphs">23 Jul 16:00</text>
<text x="1086" y="832.6" class="t" textLength="49" lengthAdjust="spacingAndGlyphs">27 Jul 00:00</text>
<text x="1150" y="832.6" class="t" textLength="49" lengthAdjust="spacingAndGlyphs">28 Jul 08:00</text>
<text x="1214" y="832.6" class="t" textLength="49" lengthAdjust="spacingAndGlyphs">29 Jul 16:00</text>
<text x="1278" y="832.6" class="t" textLength="50.5" lengthAdjust="spacingAndGlyphs">2 Aug 00:00</text>
<text x="1263" y="337" class="big">多空转折点1800</text>
</svg></body></html>
